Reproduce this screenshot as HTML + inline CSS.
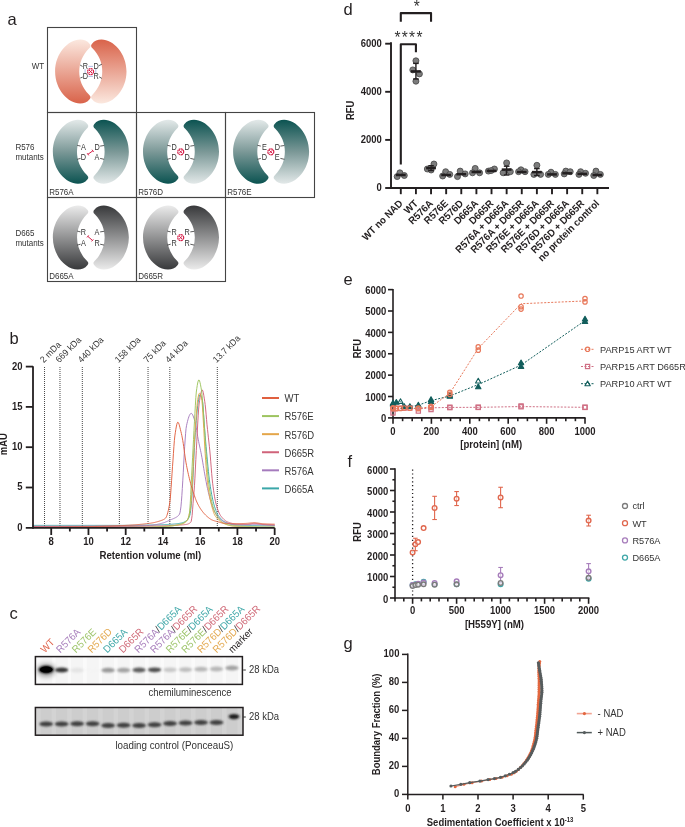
<!DOCTYPE html>
<html><head><meta charset="utf-8"><style>
html,body{margin:0;padding:0;background:#fff;}
svg{display:block;will-change:transform;}
text{font-family:"Liberation Sans",sans-serif;}
</style></head><body>
<svg width="685" height="827" viewBox="0 0 685 827">
<rect width="685" height="827" fill="#fff"/>
<text transform="translate(7.60 25.20)" font-size="16.5" text-anchor="start" fill="#231f20">a</text>
<rect x="47.5" y="27.5" width="89.0" height="85.0" fill="none" stroke="#444" stroke-width="1.1"/>
<rect x="47.5" y="112.5" width="89.0" height="85.0" fill="none" stroke="#444" stroke-width="1.1"/>
<rect x="136.5" y="112.5" width="89.0" height="85.0" fill="none" stroke="#444" stroke-width="1.1"/>
<rect x="225.5" y="112.5" width="89.0" height="85.0" fill="none" stroke="#444" stroke-width="1.1"/>
<rect x="47.5" y="197.5" width="89.0" height="84.0" fill="none" stroke="#444" stroke-width="1.1"/>
<rect x="136.5" y="197.5" width="89.0" height="84.0" fill="none" stroke="#444" stroke-width="1.1"/>
<text transform="translate(44.20 69.20) scale(1.0 1.06)" font-size="8" text-anchor="end" fill="#333">WT</text>
<text transform="translate(15.40 150.20) scale(1.0 1.06)" font-size="8" text-anchor="start" fill="#333">R576</text>
<text transform="translate(15.40 160.20) scale(1.0 1.06)" font-size="8" text-anchor="start" fill="#333">mutants</text>
<text transform="translate(15.40 236.20) scale(1.0 1.06)" font-size="8" text-anchor="start" fill="#333">D665</text>
<text transform="translate(15.40 246.20) scale(1.0 1.06)" font-size="8" text-anchor="start" fill="#333">mutants</text>
<text transform="translate(49.20 195.30) scale(1.0 1.06)" font-size="8" text-anchor="start" fill="#333">R576A</text>
<text transform="translate(138.20 195.30) scale(1.0 1.06)" font-size="8" text-anchor="start" fill="#333">R576D</text>
<text transform="translate(227.20 195.30) scale(1.0 1.06)" font-size="8" text-anchor="start" fill="#333">R576E</text>
<text transform="translate(49.20 279.30) scale(1.0 1.06)" font-size="8" text-anchor="start" fill="#333">D665A</text>
<text transform="translate(138.20 279.30) scale(1.0 1.06)" font-size="8" text-anchor="start" fill="#333">D665R</text>
<defs>
<linearGradient id="gWTl" x1="0" y1="0" x2="0" y2="1"><stop offset="0" stop-color="#fbe8df"/><stop offset="1" stop-color="#d9634a"/></linearGradient>
<linearGradient id="gWTr" x1="0" y1="0" x2="0" y2="1"><stop offset="0" stop-color="#d9634a"/><stop offset="1" stop-color="#fcede6"/></linearGradient>
<linearGradient id="gTl" x1="0" y1="0" x2="0" y2="1"><stop offset="0" stop-color="#e3e9e9"/><stop offset="0.5" stop-color="#7b9897"/><stop offset="1" stop-color="#0b5351"/></linearGradient>
<linearGradient id="gTr" x1="0" y1="0" x2="0" y2="1"><stop offset="0" stop-color="#0a514f"/><stop offset="1" stop-color="#e8eeee"/></linearGradient>
<linearGradient id="gGl" x1="0" y1="0" x2="0" y2="1"><stop offset="0" stop-color="#ebebeb"/><stop offset="1" stop-color="#38393b"/></linearGradient>
<linearGradient id="gGr" x1="0" y1="0" x2="0" y2="1"><stop offset="0" stop-color="#38393b"/><stop offset="1" stop-color="#efefef"/></linearGradient>
</defs>
<g transform="translate(93.10 71.50)"><path d="M -3.3,-27.5 C -6,-31 -9,-32 -13,-32 C -25,-32 -38,-18 -38,0 C -38,18 -25,32 -13,32 C -9,32 -6,31 -3.3,27.5 C -2,26 -2.5,24.5 -4.2,23 C -17,10 -17,-10 -4.2,-23 C -2.5,-24.5 -2,-26 -3.3,-27.5 Z" fill="url(#gWTl)"/></g>
<g transform="translate(88.50 71.50) rotate(180)"><path d="M -3.3,-27.5 C -6,-31 -9,-32 -13,-32 C -25,-32 -38,-18 -38,0 C -38,18 -25,32 -13,32 C -9,32 -6,31 -3.3,27.5 C -2,26 -2.5,24.5 -4.2,23 C -17,10 -17,-10 -4.2,-23 C -2.5,-24.5 -2,-26 -3.3,-27.5 Z" fill="url(#gWTl)"/></g>
<text transform="translate(88.10 68.50) scale(1.0 1.17)" font-size="7.3" text-anchor="end" fill="#333">R</text>
<text transform="translate(93.50 68.50) scale(1.0 1.17)" font-size="7.3" text-anchor="start" fill="#333">D</text>
<text transform="translate(88.10 79.30) scale(1.0 1.17)" font-size="7.3" text-anchor="end" fill="#333">D</text>
<text transform="translate(93.50 79.30) scale(1.0 1.17)" font-size="7.3" text-anchor="start" fill="#333">R</text>
<path d="M80.10,65.00 Q81.35,65.75 82.60,66.50" stroke="#333" stroke-width="0.8" fill="none"/>
<path d="M98.90,65.70 Q100.40,64.95 101.90,64.20" stroke="#333" stroke-width="0.8" fill="none"/>
<path d="M80.30,78.00 Q81.50,77.55 82.70,77.10" stroke="#333" stroke-width="0.8" fill="none"/>
<path d="M99.20,76.90 Q100.55,77.65 101.90,78.40" stroke="#333" stroke-width="0.8" fill="none"/>
<circle cx="90.60" cy="71.60" r="3.0" fill="none" stroke="#d6204a" stroke-width="1.2" stroke-dasharray="1.9 0.45"/>
<line x1="89.00" y1="70.00" x2="92.20" y2="73.20" stroke="#d6204a" stroke-width="1.0"/>
<line x1="89.00" y1="73.20" x2="92.20" y2="70.00" stroke="#d6204a" stroke-width="1.0"/>
<line x1="88.40" y1="66.40" x2="93.00" y2="66.40" stroke="#a9b7e2" stroke-width="0.9"/>
<line x1="88.40" y1="76.40" x2="93.00" y2="76.40" stroke="#a9b7e2" stroke-width="0.9"/>
<line x1="85.10" y1="69.00" x2="85.10" y2="73.10" stroke="#a9b7e2" stroke-width="0.9"/>
<line x1="95.80" y1="69.00" x2="95.80" y2="73.10" stroke="#a9b7e2" stroke-width="0.9"/>
<g transform="translate(90.85 151.80)"><path d="M -3.3,-27.5 C -6,-31 -9,-32 -13,-32 C -25,-32 -38,-18 -38,0 C -38,18 -25,32 -13,32 C -9,32 -6,31 -3.3,27.5 C -2,26 -2.5,24.5 -4.2,23 C -17,10 -17,-10 -4.2,-23 C -2.5,-24.5 -2,-26 -3.3,-27.5 Z" fill="url(#gTl)"/></g>
<g transform="translate(90.85 151.80) rotate(180)"><path d="M -3.3,-27.5 C -6,-31 -9,-32 -13,-32 C -25,-32 -38,-18 -38,0 C -38,18 -25,32 -13,32 C -9,32 -6,31 -3.3,27.5 C -2,26 -2.5,24.5 -4.2,23 C -17,10 -17,-10 -4.2,-23 C -2.5,-24.5 -2,-26 -3.3,-27.5 Z" fill="url(#gTl)"/></g>
<text transform="translate(85.95 149.50) scale(1.0 1.17)" font-size="7.3" text-anchor="end" fill="#333">A</text>
<text transform="translate(94.45 149.50) scale(1.0 1.17)" font-size="7.3" text-anchor="start" fill="#333">D</text>
<text transform="translate(85.95 159.80) scale(1.0 1.17)" font-size="7.3" text-anchor="end" fill="#333">D</text>
<text transform="translate(94.45 159.80) scale(1.0 1.17)" font-size="7.3" text-anchor="start" fill="#333">A</text>
<path d="M77.15,145.30 Q78.85,145.70 80.55,146.10" stroke="#333" stroke-width="0.8" fill="none"/>
<path d="M100.15,146.10 Q102.15,145.80 104.15,145.50" stroke="#333" stroke-width="0.8" fill="none"/>
<path d="M77.15,159.30 Q78.85,158.85 80.55,158.40" stroke="#333" stroke-width="0.8" fill="none"/>
<path d="M100.15,158.40 Q102.15,158.85 104.15,159.30" stroke="#333" stroke-width="0.8" fill="none"/>
<line x1="87.95" y1="154.30" x2="92.85" y2="150.80" stroke="#d6204a" stroke-width="1.0"/>
<line x1="87.19" y1="153.24" x2="88.71" y2="155.36" stroke="#d6204a" stroke-width="1.0"/>
<line x1="92.09" y1="149.74" x2="93.61" y2="151.86" stroke="#d6204a" stroke-width="1.0"/>
<g transform="translate(181.00 151.80)"><path d="M -3.3,-27.5 C -6,-31 -9,-32 -13,-32 C -25,-32 -38,-18 -38,0 C -38,18 -25,32 -13,32 C -9,32 -6,31 -3.3,27.5 C -2,26 -2.5,24.5 -4.2,23 C -17,10 -17,-10 -4.2,-23 C -2.5,-24.5 -2,-26 -3.3,-27.5 Z" fill="url(#gTl)"/></g>
<g transform="translate(181.00 151.80) rotate(180)"><path d="M -3.3,-27.5 C -6,-31 -9,-32 -13,-32 C -25,-32 -38,-18 -38,0 C -38,18 -25,32 -13,32 C -9,32 -6,31 -3.3,27.5 C -2,26 -2.5,24.5 -4.2,23 C -17,10 -17,-10 -4.2,-23 C -2.5,-24.5 -2,-26 -3.3,-27.5 Z" fill="url(#gTl)"/></g>
<text transform="translate(176.80 149.50) scale(1.0 1.17)" font-size="7.3" text-anchor="end" fill="#333">D</text>
<text transform="translate(184.60 149.50) scale(1.0 1.17)" font-size="7.3" text-anchor="start" fill="#333">D</text>
<text transform="translate(176.80 159.80) scale(1.0 1.17)" font-size="7.3" text-anchor="end" fill="#333">D</text>
<text transform="translate(184.60 159.80) scale(1.0 1.17)" font-size="7.3" text-anchor="start" fill="#333">D</text>
<path d="M167.30,145.30 Q169.00,145.70 170.70,146.10" stroke="#333" stroke-width="0.8" fill="none"/>
<path d="M190.30,146.10 Q192.30,145.80 194.30,145.50" stroke="#333" stroke-width="0.8" fill="none"/>
<path d="M167.30,159.30 Q169.00,158.85 170.70,158.40" stroke="#333" stroke-width="0.8" fill="none"/>
<path d="M190.30,158.40 Q192.30,158.85 194.30,159.30" stroke="#333" stroke-width="0.8" fill="none"/>
<circle cx="180.70" cy="151.80" r="3.0" fill="none" stroke="#d6204a" stroke-width="1.2" stroke-dasharray="1.9 0.45"/>
<line x1="179.10" y1="150.20" x2="182.30" y2="153.40" stroke="#d6204a" stroke-width="1.0"/>
<line x1="179.10" y1="153.40" x2="182.30" y2="150.20" stroke="#d6204a" stroke-width="1.0"/>
<g transform="translate(271.10 151.80)"><path d="M -3.3,-27.5 C -6,-31 -9,-32 -13,-32 C -25,-32 -38,-18 -38,0 C -38,18 -25,32 -13,32 C -9,32 -6,31 -3.3,27.5 C -2,26 -2.5,24.5 -4.2,23 C -17,10 -17,-10 -4.2,-23 C -2.5,-24.5 -2,-26 -3.3,-27.5 Z" fill="url(#gTl)"/></g>
<g transform="translate(271.10 151.80) rotate(180)"><path d="M -3.3,-27.5 C -6,-31 -9,-32 -13,-32 C -25,-32 -38,-18 -38,0 C -38,18 -25,32 -13,32 C -9,32 -6,31 -3.3,27.5 C -2,26 -2.5,24.5 -4.2,23 C -17,10 -17,-10 -4.2,-23 C -2.5,-24.5 -2,-26 -3.3,-27.5 Z" fill="url(#gTl)"/></g>
<text transform="translate(266.90 149.50) scale(1.0 1.17)" font-size="7.3" text-anchor="end" fill="#333">E</text>
<text transform="translate(274.70 149.50) scale(1.0 1.17)" font-size="7.3" text-anchor="start" fill="#333">D</text>
<text transform="translate(266.90 159.80) scale(1.0 1.17)" font-size="7.3" text-anchor="end" fill="#333">D</text>
<text transform="translate(274.70 159.80) scale(1.0 1.17)" font-size="7.3" text-anchor="start" fill="#333">E</text>
<path d="M257.40,145.30 Q259.10,145.70 260.80,146.10" stroke="#333" stroke-width="0.8" fill="none"/>
<path d="M280.40,146.10 Q282.40,145.80 284.40,145.50" stroke="#333" stroke-width="0.8" fill="none"/>
<path d="M257.40,159.30 Q259.10,158.85 260.80,158.40" stroke="#333" stroke-width="0.8" fill="none"/>
<path d="M280.40,158.40 Q282.40,158.85 284.40,159.30" stroke="#333" stroke-width="0.8" fill="none"/>
<circle cx="270.80" cy="151.80" r="3.0" fill="none" stroke="#d6204a" stroke-width="1.2" stroke-dasharray="1.9 0.45"/>
<line x1="269.20" y1="150.20" x2="272.40" y2="153.40" stroke="#d6204a" stroke-width="1.0"/>
<line x1="269.20" y1="153.40" x2="272.40" y2="150.20" stroke="#d6204a" stroke-width="1.0"/>
<g transform="translate(90.85 237.60)"><path d="M -3.3,-27.5 C -6,-31 -9,-32 -13,-32 C -25,-32 -38,-18 -38,0 C -38,18 -25,32 -13,32 C -9,32 -6,31 -3.3,27.5 C -2,26 -2.5,24.5 -4.2,23 C -17,10 -17,-10 -4.2,-23 C -2.5,-24.5 -2,-26 -3.3,-27.5 Z" fill="url(#gGl)"/></g>
<g transform="translate(90.85 237.60) rotate(180)"><path d="M -3.3,-27.5 C -6,-31 -9,-32 -13,-32 C -25,-32 -38,-18 -38,0 C -38,18 -25,32 -13,32 C -9,32 -6,31 -3.3,27.5 C -2,26 -2.5,24.5 -4.2,23 C -17,10 -17,-10 -4.2,-23 C -2.5,-24.5 -2,-26 -3.3,-27.5 Z" fill="url(#gGl)"/></g>
<text transform="translate(85.95 235.30) scale(1.0 1.17)" font-size="7.3" text-anchor="end" fill="#333">R</text>
<text transform="translate(94.45 235.30) scale(1.0 1.17)" font-size="7.3" text-anchor="start" fill="#333">A</text>
<text transform="translate(85.95 245.60) scale(1.0 1.17)" font-size="7.3" text-anchor="end" fill="#333">A</text>
<text transform="translate(94.45 245.60) scale(1.0 1.17)" font-size="7.3" text-anchor="start" fill="#333">R</text>
<path d="M77.15,231.10 Q78.85,231.50 80.55,231.90" stroke="#333" stroke-width="0.8" fill="none"/>
<path d="M100.15,231.90 Q102.15,231.60 104.15,231.30" stroke="#333" stroke-width="0.8" fill="none"/>
<path d="M77.15,245.10 Q78.85,244.65 80.55,244.20" stroke="#333" stroke-width="0.8" fill="none"/>
<path d="M100.15,244.20 Q102.15,244.65 104.15,245.10" stroke="#333" stroke-width="0.8" fill="none"/>
<line x1="87.85" y1="236.40" x2="92.45" y2="240.40" stroke="#d6204a" stroke-width="1.0"/>
<line x1="88.70" y1="235.42" x2="87.00" y2="237.38" stroke="#d6204a" stroke-width="1.0"/>
<line x1="93.30" y1="239.42" x2="91.60" y2="241.38" stroke="#d6204a" stroke-width="1.0"/>
<g transform="translate(181.00 237.60)"><path d="M -3.3,-27.5 C -6,-31 -9,-32 -13,-32 C -25,-32 -38,-18 -38,0 C -38,18 -25,32 -13,32 C -9,32 -6,31 -3.3,27.5 C -2,26 -2.5,24.5 -4.2,23 C -17,10 -17,-10 -4.2,-23 C -2.5,-24.5 -2,-26 -3.3,-27.5 Z" fill="url(#gGl)"/></g>
<g transform="translate(181.00 237.60) rotate(180)"><path d="M -3.3,-27.5 C -6,-31 -9,-32 -13,-32 C -25,-32 -38,-18 -38,0 C -38,18 -25,32 -13,32 C -9,32 -6,31 -3.3,27.5 C -2,26 -2.5,24.5 -4.2,23 C -17,10 -17,-10 -4.2,-23 C -2.5,-24.5 -2,-26 -3.3,-27.5 Z" fill="url(#gGl)"/></g>
<text transform="translate(176.80 235.30) scale(1.0 1.17)" font-size="7.3" text-anchor="end" fill="#333">R</text>
<text transform="translate(184.60 235.30) scale(1.0 1.17)" font-size="7.3" text-anchor="start" fill="#333">R</text>
<text transform="translate(176.80 245.60) scale(1.0 1.17)" font-size="7.3" text-anchor="end" fill="#333">R</text>
<text transform="translate(184.60 245.60) scale(1.0 1.17)" font-size="7.3" text-anchor="start" fill="#333">R</text>
<path d="M167.30,231.10 Q169.00,231.50 170.70,231.90" stroke="#333" stroke-width="0.8" fill="none"/>
<path d="M190.30,231.90 Q192.30,231.60 194.30,231.30" stroke="#333" stroke-width="0.8" fill="none"/>
<path d="M167.30,245.10 Q169.00,244.65 170.70,244.20" stroke="#333" stroke-width="0.8" fill="none"/>
<path d="M190.30,244.20 Q192.30,244.65 194.30,245.10" stroke="#333" stroke-width="0.8" fill="none"/>
<circle cx="180.70" cy="237.60" r="3.0" fill="none" stroke="#d6204a" stroke-width="1.2" stroke-dasharray="1.9 0.45"/>
<line x1="179.10" y1="236.00" x2="182.30" y2="239.20" stroke="#d6204a" stroke-width="1.0"/>
<line x1="179.10" y1="239.20" x2="182.30" y2="236.00" stroke="#d6204a" stroke-width="1.0"/>
<text transform="translate(9.60 344.20)" font-size="16.5" text-anchor="start" fill="#231f20">b</text>
<line x1="44.52" y1="367.00" x2="44.52" y2="527.00" stroke="#333" stroke-width="0.9" stroke-dasharray="1 1"/>
<text transform="translate(43.72 363.20) rotate(-45) scale(1.0 1.06)" font-size="8.6" text-anchor="start" fill="#333">2 mDa</text>
<line x1="59.97" y1="367.00" x2="59.97" y2="527.00" stroke="#333" stroke-width="0.9" stroke-dasharray="1 1"/>
<text transform="translate(59.17 363.20) rotate(-45) scale(1.0 1.06)" font-size="8.6" text-anchor="start" fill="#333">669 kDa</text>
<line x1="82.32" y1="367.00" x2="82.32" y2="527.00" stroke="#333" stroke-width="0.9" stroke-dasharray="1 1"/>
<text transform="translate(81.52 363.20) rotate(-45) scale(1.0 1.06)" font-size="8.6" text-anchor="start" fill="#333">440 kDa</text>
<line x1="119.37" y1="367.00" x2="119.37" y2="527.00" stroke="#333" stroke-width="0.9" stroke-dasharray="1 1"/>
<text transform="translate(118.57 363.20) rotate(-45) scale(1.0 1.06)" font-size="8.6" text-anchor="start" fill="#333">158 kDa</text>
<line x1="148.04" y1="367.00" x2="148.04" y2="527.00" stroke="#333" stroke-width="0.9" stroke-dasharray="1 1"/>
<text transform="translate(147.24 363.20) rotate(-45) scale(1.0 1.06)" font-size="8.6" text-anchor="start" fill="#333">75 kDa</text>
<line x1="169.83" y1="367.00" x2="169.83" y2="527.00" stroke="#333" stroke-width="0.9" stroke-dasharray="1 1"/>
<text transform="translate(169.03 363.20) rotate(-45) scale(1.0 1.06)" font-size="8.6" text-anchor="start" fill="#333">44 kDa</text>
<line x1="217.31" y1="367.00" x2="217.31" y2="527.00" stroke="#333" stroke-width="0.9" stroke-dasharray="1 1"/>
<text transform="translate(216.51 363.20) rotate(-45) scale(1.0 1.06)" font-size="8.6" text-anchor="start" fill="#333">13.7 kDa</text>
<path d="M32.60,525.38 L33.07,525.38 L33.53,525.38 L34.00,525.38 L34.47,525.38 L34.93,525.38 L35.40,525.38 L35.86,525.38 L36.33,525.38 L36.80,525.38 L37.26,525.38 L37.73,525.38 L38.20,525.38 L38.66,525.38 L39.13,525.38 L39.60,525.38 L40.06,525.38 L40.53,525.38 L41.00,525.38 L41.46,525.38 L41.93,525.38 L42.39,525.38 L42.86,525.38 L43.33,525.38 L43.79,525.38 L44.26,525.38 L44.73,525.38 L45.19,525.38 L45.66,525.38 L46.13,525.38 L46.59,525.38 L47.06,525.38 L47.52,525.38 L47.99,525.38 L48.46,525.38 L48.92,525.38 L49.39,525.38 L49.86,525.38 L50.32,525.38 L50.79,525.38 L51.26,525.38 L51.72,525.38 L52.19,525.38 L52.66,525.38 L53.12,525.38 L53.59,525.38 L54.05,525.38 L54.52,525.38 L54.99,525.38 L55.45,525.38 L55.92,525.38 L56.39,525.38 L56.85,525.38 L57.32,525.38 L57.79,525.38 L58.25,525.38 L58.72,525.38 L59.18,525.38 L59.65,525.38 L60.12,525.38 L60.58,525.38 L61.05,525.38 L61.52,525.38 L61.98,525.38 L62.45,525.38 L62.92,525.38 L63.38,525.38 L63.85,525.38 L64.31,525.38 L64.78,525.38 L65.25,525.38 L65.71,525.38 L66.18,525.38 L66.65,525.38 L67.11,525.38 L67.58,525.38 L68.05,525.38 L68.51,525.38 L68.98,525.38 L69.45,525.38 L69.91,525.38 L70.38,525.38 L70.84,525.38 L71.31,525.38 L71.78,525.38 L72.24,525.38 L72.71,525.38 L73.18,525.38 L73.64,525.38 L74.11,525.38 L74.58,525.38 L75.04,525.38 L75.51,525.38 L75.97,525.38 L76.44,525.38 L76.91,525.38 L77.37,525.38 L77.84,525.38 L78.31,525.38 L78.77,525.38 L79.24,525.38 L79.71,525.38 L80.17,525.38 L80.64,525.38 L81.11,525.38 L81.57,525.38 L82.04,525.38 L82.50,525.38 L82.97,525.38 L83.44,525.38 L83.90,525.38 L84.37,525.38 L84.84,525.38 L85.30,525.38 L85.77,525.38 L86.24,525.38 L86.70,525.38 L87.17,525.38 L87.63,525.38 L88.10,525.38 L88.57,525.38 L89.03,525.38 L89.50,525.38 L89.97,525.38 L90.43,525.38 L90.90,525.38 L91.37,525.38 L91.83,525.38 L92.30,525.38 L92.77,525.38 L93.23,525.38 L93.70,525.38 L94.16,525.38 L94.63,525.38 L95.10,525.38 L95.56,525.38 L96.03,525.38 L96.50,525.38 L96.96,525.38 L97.43,525.38 L97.90,525.38 L98.36,525.38 L98.83,525.38 L99.29,525.38 L99.76,525.38 L100.23,525.38 L100.69,525.38 L101.16,525.38 L101.63,525.38 L102.09,525.38 L102.56,525.38 L103.03,525.38 L103.49,525.38 L103.96,525.38 L104.43,525.38 L104.89,525.38 L105.36,525.38 L105.82,525.38 L106.29,525.38 L106.76,525.38 L107.22,525.38 L107.69,525.38 L108.16,525.38 L108.62,525.38 L109.09,525.38 L109.56,525.38 L110.02,525.38 L110.49,525.38 L110.95,525.38 L111.42,525.38 L111.89,525.38 L112.35,525.38 L112.82,525.38 L113.29,525.38 L113.75,525.38 L114.22,525.38 L114.69,525.38 L115.15,525.38 L115.62,525.38 L116.09,525.38 L116.55,525.38 L117.02,525.38 L117.48,525.38 L117.95,525.38 L118.42,525.38 L118.88,525.38 L119.35,525.38 L119.82,525.38 L120.28,525.38 L120.75,525.38 L121.22,525.38 L121.68,525.38 L122.15,525.38 L122.61,525.38 L123.08,525.38 L123.55,525.38 L124.01,525.38 L124.48,525.38 L124.95,525.38 L125.41,525.38 L125.88,525.38 L126.35,525.38 L126.81,525.38 L127.28,525.38 L127.74,525.38 L128.21,525.38 L128.68,525.38 L129.14,525.37 L129.61,525.37 L130.08,525.37 L130.54,525.37 L131.01,525.36 L131.48,525.36 L131.94,525.35 L132.41,525.35 L132.88,525.35 L133.34,525.34 L133.81,525.34 L134.27,525.33 L134.74,525.33 L135.21,525.32 L135.67,525.32 L136.14,525.31 L136.61,525.30 L137.07,525.30 L137.54,525.29 L138.01,525.28 L138.47,525.28 L138.94,525.27 L139.40,525.26 L139.87,525.26 L140.34,525.25 L140.80,525.24 L141.27,525.23 L141.74,525.22 L142.20,525.22 L142.67,525.21 L143.14,525.20 L143.60,525.19 L144.07,525.18 L144.54,525.17 L145.00,525.16 L145.47,525.15 L145.93,525.14 L146.40,525.13 L146.87,525.13 L147.33,525.12 L147.80,525.11 L148.27,525.10 L148.73,525.09 L149.20,525.08 L149.67,525.07 L150.13,525.06 L150.60,525.05 L151.06,525.04 L151.53,525.03 L152.00,525.02 L152.46,525.01 L152.93,524.99 L153.40,524.98 L153.86,524.97 L154.33,524.96 L154.80,524.95 L155.26,524.94 L155.73,524.93 L156.20,524.92 L156.66,524.90 L157.13,524.89 L157.59,524.88 L158.06,524.86 L158.53,524.85 L158.99,524.83 L159.46,524.82 L159.93,524.80 L160.39,524.78 L160.86,524.77 L161.33,524.75 L161.79,524.73 L162.26,524.71 L162.72,524.69 L163.19,524.67 L163.66,524.65 L164.12,524.63 L164.59,524.61 L165.06,524.59 L165.52,524.57 L165.99,524.54 L166.46,524.52 L166.92,524.50 L167.39,524.47 L167.86,524.45 L168.32,524.42 L168.79,524.39 L169.25,524.36 L169.72,524.34 L170.19,524.31 L170.65,524.28 L171.12,524.25 L171.59,524.22 L172.05,524.19 L172.52,524.15 L172.99,524.12 L173.45,524.08 L173.92,524.05 L174.38,524.01 L174.85,523.96 L175.32,523.92 L175.78,523.87 L176.25,523.82 L176.72,523.76 L177.18,523.71 L177.65,523.65 L178.12,523.58 L178.58,523.51 L179.05,523.44 L179.52,523.36 L179.98,523.28 L180.45,523.19 L180.91,523.10 L181.38,523.00 L181.85,522.90 L182.31,522.78 L182.78,522.63 L183.25,522.47 L183.71,522.29 L184.18,522.08 L184.65,521.85 L185.11,521.59 L185.58,521.31 L186.04,520.99 L186.51,520.65 L186.98,520.28 L187.44,519.87 L187.91,519.33 L188.38,518.64 L188.84,517.78 L189.31,516.71 L189.78,515.42 L190.24,513.53 L190.71,510.17 L191.17,505.89 L191.64,500.66 L192.11,493.92 L192.57,486.21 L193.04,477.42 L193.51,466.73 L193.97,456.11 L194.44,447.38 L194.91,439.58 L195.37,432.45 L195.84,426.06 L196.31,420.38 L196.77,414.99 L197.24,410.00 L197.70,405.64 L198.17,402.15 L198.64,399.42 L199.10,396.90 L199.57,395.05 L200.04,394.41 L200.50,394.73 L200.97,395.55 L201.44,396.79 L201.90,398.38 L202.37,400.25 L202.83,403.77 L203.30,409.98 L203.77,417.30 L204.23,424.10 L204.70,429.91 L205.17,435.66 L205.63,441.28 L206.10,446.69 L206.57,451.82 L207.03,456.85 L207.50,461.87 L207.97,466.76 L208.43,471.45 L208.90,475.82 L209.36,479.79 L209.83,483.26 L210.30,486.33 L210.76,489.24 L211.23,492.00 L211.70,494.58 L212.16,496.99 L212.63,499.23 L213.10,501.28 L213.56,503.16 L214.03,504.84 L214.49,506.37 L214.96,507.82 L215.43,509.19 L215.89,510.48 L216.36,511.67 L216.83,512.77 L217.29,513.76 L217.76,514.65 L218.23,515.42 L218.69,516.08 L219.16,516.70 L219.63,517.30 L220.09,517.86 L220.56,518.40 L221.02,518.91 L221.49,519.39 L221.96,519.84 L222.42,520.26 L222.89,520.65 L223.36,521.01 L223.82,521.33 L224.29,521.62 L224.76,521.89 L225.22,522.12 L225.69,522.32 L226.15,522.52 L226.62,522.72 L227.09,522.90 L227.55,523.09 L228.02,523.27 L228.49,523.44 L228.95,523.60 L229.42,523.76 L229.89,523.91 L230.35,524.05 L230.82,524.18 L231.29,524.31 L231.75,524.42 L232.22,524.53 L232.68,524.62 L233.15,524.71 L233.62,524.79 L234.08,524.85 L234.55,524.90 L235.02,524.95 L235.48,524.98 L235.95,525.00 L236.42,525.02 L236.88,525.04 L237.35,525.06 L237.81,525.08 L238.28,525.10 L238.75,525.12 L239.21,525.14 L239.68,525.16 L240.15,525.17 L240.61,525.19 L241.08,525.21 L241.55,525.23 L242.01,525.25 L242.48,525.26 L242.95,525.28 L243.41,525.29 L243.88,525.31 L244.34,525.33 L244.81,525.34 L245.28,525.36 L245.74,525.37 L246.21,525.39 L246.68,525.40 L247.14,525.41 L247.61,525.43 L248.08,525.44 L248.54,525.45 L249.01,525.47 L249.47,525.48 L249.94,525.49 L250.41,525.50 L250.87,525.51 L251.34,525.53 L251.81,525.54 L252.27,525.55 L252.74,525.56 L253.21,525.57 L253.67,525.58 L254.14,525.59 L254.60,525.60 L255.07,525.61 L255.54,525.62 L256.00,525.62 L256.47,525.63 L256.94,525.64 L257.40,525.65 L257.87,525.66 L258.34,525.66 L258.80,525.67 L259.27,525.68 L259.74,525.68 L260.20,525.69 L260.67,525.70 L261.13,525.70 L261.60,525.71 L262.07,525.71 L262.53,525.72 L263.00,525.73 L263.47,525.73 L263.93,525.73 L264.40,525.74 L264.87,525.74 L265.33,525.75 L265.80,525.75 L266.26,525.75 L266.73,525.76 L267.20,525.76 L267.66,525.76 L268.13,525.77 L268.60,525.77 L269.06,525.77 L269.53,525.77 L270.00,525.78 L270.46,525.78 L270.93,525.78 L271.40,525.78 L271.86,525.78 L272.33,525.78 L272.79,525.78 L273.26,525.78 L273.73,525.78 L274.19,525.78 L274.66,525.78" fill="none" stroke="#3ba7a9" stroke-width="0.95" stroke-linejoin="round"/>
<path d="M32.60,526.43 L33.07,526.43 L33.53,526.43 L34.00,526.43 L34.47,526.43 L34.93,526.43 L35.40,526.43 L35.86,526.43 L36.33,526.43 L36.80,526.43 L37.26,526.43 L37.73,526.43 L38.20,526.43 L38.66,526.43 L39.13,526.43 L39.60,526.43 L40.06,526.43 L40.53,526.43 L41.00,526.43 L41.46,526.43 L41.93,526.43 L42.39,526.43 L42.86,526.43 L43.33,526.43 L43.79,526.43 L44.26,526.43 L44.73,526.43 L45.19,526.43 L45.66,526.43 L46.13,526.43 L46.59,526.43 L47.06,526.43 L47.52,526.42 L47.99,526.42 L48.46,526.42 L48.92,526.42 L49.39,526.42 L49.86,526.42 L50.32,526.42 L50.79,526.42 L51.26,526.42 L51.72,526.42 L52.19,526.42 L52.66,526.42 L53.12,526.42 L53.59,526.42 L54.05,526.42 L54.52,526.42 L54.99,526.42 L55.45,526.42 L55.92,526.42 L56.39,526.42 L56.85,526.42 L57.32,526.42 L57.79,526.42 L58.25,526.41 L58.72,526.41 L59.18,526.41 L59.65,526.41 L60.12,526.41 L60.58,526.41 L61.05,526.41 L61.52,526.41 L61.98,526.41 L62.45,526.41 L62.92,526.41 L63.38,526.41 L63.85,526.41 L64.31,526.41 L64.78,526.41 L65.25,526.40 L65.71,526.40 L66.18,526.40 L66.65,526.40 L67.11,526.40 L67.58,526.40 L68.05,526.40 L68.51,526.40 L68.98,526.40 L69.45,526.40 L69.91,526.40 L70.38,526.40 L70.84,526.39 L71.31,526.39 L71.78,526.39 L72.24,526.39 L72.71,526.39 L73.18,526.39 L73.64,526.39 L74.11,526.39 L74.58,526.39 L75.04,526.39 L75.51,526.38 L75.97,526.38 L76.44,526.38 L76.91,526.38 L77.37,526.38 L77.84,526.38 L78.31,526.38 L78.77,526.38 L79.24,526.38 L79.71,526.37 L80.17,526.37 L80.64,526.37 L81.11,526.37 L81.57,526.37 L82.04,526.37 L82.50,526.37 L82.97,526.37 L83.44,526.37 L83.90,526.36 L84.37,526.36 L84.84,526.36 L85.30,526.36 L85.77,526.36 L86.24,526.36 L86.70,526.36 L87.17,526.35 L87.63,526.35 L88.10,526.35 L88.57,526.35 L89.03,526.35 L89.50,526.35 L89.97,526.35 L90.43,526.34 L90.90,526.34 L91.37,526.34 L91.83,526.34 L92.30,526.34 L92.77,526.34 L93.23,526.34 L93.70,526.33 L94.16,526.33 L94.63,526.33 L95.10,526.33 L95.56,526.33 L96.03,526.33 L96.50,526.32 L96.96,526.32 L97.43,526.32 L97.90,526.32 L98.36,526.32 L98.83,526.32 L99.29,526.31 L99.76,526.31 L100.23,526.31 L100.69,526.31 L101.16,526.31 L101.63,526.30 L102.09,526.30 L102.56,526.30 L103.03,526.30 L103.49,526.30 L103.96,526.30 L104.43,526.29 L104.89,526.29 L105.36,526.29 L105.82,526.29 L106.29,526.29 L106.76,526.28 L107.22,526.28 L107.69,526.28 L108.16,526.28 L108.62,526.28 L109.09,526.27 L109.56,526.27 L110.02,526.27 L110.49,526.27 L110.95,526.26 L111.42,526.26 L111.89,526.26 L112.35,526.26 L112.82,526.26 L113.29,526.25 L113.75,526.25 L114.22,526.25 L114.69,526.25 L115.15,526.24 L115.62,526.24 L116.09,526.24 L116.55,526.24 L117.02,526.24 L117.48,526.23 L117.95,526.23 L118.42,526.23 L118.88,526.23 L119.35,526.22 L119.82,526.22 L120.28,526.22 L120.75,526.22 L121.22,526.21 L121.68,526.21 L122.15,526.21 L122.61,526.21 L123.08,526.20 L123.55,526.20 L124.01,526.20 L124.48,526.19 L124.95,526.19 L125.41,526.19 L125.88,526.19 L126.35,526.18 L126.81,526.18 L127.28,526.18 L127.74,526.17 L128.21,526.17 L128.68,526.16 L129.14,526.15 L129.61,526.15 L130.08,526.14 L130.54,526.13 L131.01,526.13 L131.48,526.12 L131.94,526.11 L132.41,526.10 L132.88,526.09 L133.34,526.08 L133.81,526.07 L134.27,526.06 L134.74,526.05 L135.21,526.03 L135.67,526.02 L136.14,526.01 L136.61,525.99 L137.07,525.98 L137.54,525.96 L138.01,525.95 L138.47,525.93 L138.94,525.92 L139.40,525.90 L139.87,525.88 L140.34,525.86 L140.80,525.85 L141.27,525.83 L141.74,525.81 L142.20,525.79 L142.67,525.77 L143.14,525.75 L143.60,525.73 L144.07,525.71 L144.54,525.68 L145.00,525.66 L145.47,525.64 L145.93,525.61 L146.40,525.59 L146.87,525.57 L147.33,525.54 L147.80,525.51 L148.27,525.49 L148.73,525.46 L149.20,525.44 L149.67,525.41 L150.13,525.38 L150.60,525.35 L151.06,525.31 L151.53,525.27 L152.00,525.22 L152.46,525.16 L152.93,525.11 L153.40,525.04 L153.86,524.97 L154.33,524.90 L154.80,524.82 L155.26,524.74 L155.73,524.66 L156.20,524.57 L156.66,524.47 L157.13,524.38 L157.59,524.28 L158.06,524.18 L158.53,524.07 L158.99,523.96 L159.46,523.85 L159.93,523.74 L160.39,523.62 L160.86,523.51 L161.33,523.39 L161.79,523.27 L162.26,523.14 L162.72,523.02 L163.19,522.89 L163.66,522.76 L164.12,522.60 L164.59,522.44 L165.06,522.26 L165.52,522.07 L165.99,521.88 L166.46,521.68 L166.92,521.47 L167.39,521.26 L167.86,521.05 L168.32,520.83 L168.79,520.62 L169.25,520.41 L169.72,520.19 L170.19,519.99 L170.65,519.79 L171.12,519.59 L171.59,519.40 L172.05,519.21 L172.52,519.02 L172.99,518.83 L173.45,518.63 L173.92,518.43 L174.38,518.21 L174.85,517.98 L175.32,517.74 L175.78,517.50 L176.25,517.23 L176.72,516.95 L177.18,516.63 L177.65,516.27 L178.12,515.87 L178.58,515.42 L179.05,514.85 L179.52,514.07 L179.98,512.77 L180.45,510.22 L180.91,506.85 L181.38,501.82 L181.85,495.74 L182.31,488.61 L182.78,480.82 L183.25,472.81 L183.71,464.08 L184.18,454.90 L184.65,446.77 L185.11,440.05 L185.58,433.75 L186.04,428.71 L186.51,425.72 L186.98,423.59 L187.44,421.62 L187.91,419.82 L188.38,418.22 L188.84,416.82 L189.31,415.64 L189.78,414.69 L190.24,413.98 L190.71,413.53 L191.17,413.35 L191.64,413.49 L192.11,413.97 L192.57,414.74 L193.04,415.76 L193.51,416.97 L193.97,418.32 L194.44,419.75 L194.91,421.22 L195.37,422.92 L195.84,425.16 L196.31,427.78 L196.77,430.65 L197.24,433.60 L197.70,436.49 L198.17,439.17 L198.64,441.56 L199.10,443.81 L199.57,445.98 L200.04,448.13 L200.50,450.29 L200.97,452.51 L201.44,454.84 L201.90,457.33 L202.37,460.01 L202.83,462.83 L203.30,465.69 L203.77,468.54 L204.23,471.30 L204.70,473.91 L205.17,476.50 L205.63,479.07 L206.10,481.58 L206.57,484.02 L207.03,486.34 L207.50,488.53 L207.97,490.59 L208.43,492.57 L208.90,494.47 L209.36,496.30 L209.83,498.04 L210.30,499.71 L210.76,501.30 L211.23,502.82 L211.70,504.30 L212.16,505.74 L212.63,507.12 L213.10,508.41 L213.56,509.59 L214.03,510.63 L214.49,511.56 L214.96,512.41 L215.43,513.19 L215.89,513.92 L216.36,514.60 L216.83,515.25 L217.29,515.86 L217.76,516.44 L218.23,517.02 L218.69,517.57 L219.16,518.11 L219.63,518.63 L220.09,519.11 L220.56,519.56 L221.02,519.97 L221.49,520.34 L221.96,520.67 L222.42,520.97 L222.89,521.26 L223.36,521.54 L223.82,521.81 L224.29,522.06 L224.76,522.30 L225.22,522.51 L225.69,522.72 L226.15,522.90 L226.62,523.06 L227.09,523.21 L227.55,523.34 L228.02,523.46 L228.49,523.58 L228.95,523.70 L229.42,523.81 L229.89,523.92 L230.35,524.03 L230.82,524.14 L231.29,524.24 L231.75,524.34 L232.22,524.43 L232.68,524.52 L233.15,524.60 L233.62,524.67 L234.08,524.74 L234.55,524.80 L235.02,524.85 L235.48,524.89 L235.95,524.93 L236.42,524.96 L236.88,524.97 L237.35,524.98 L237.81,524.98 L238.28,524.98 L238.75,524.97 L239.21,524.97 L239.68,524.96 L240.15,524.95 L240.61,524.94 L241.08,524.93 L241.55,524.92 L242.01,524.90 L242.48,524.89 L242.95,524.88 L243.41,524.86 L243.88,524.85 L244.34,524.83 L244.81,524.81 L245.28,524.80 L245.74,524.78 L246.21,524.76 L246.68,524.75 L247.14,524.73 L247.61,524.71 L248.08,524.70 L248.54,524.68 L249.01,524.67 L249.47,524.65 L249.94,524.64 L250.41,524.63 L250.87,524.62 L251.34,524.61 L251.81,524.60 L252.27,524.59 L252.74,524.58 L253.21,524.58 L253.67,524.58 L254.14,524.58 L254.60,524.58 L255.07,524.58 L255.54,524.58 L256.00,524.58 L256.47,524.59 L256.94,524.59 L257.40,524.60 L257.87,524.60 L258.34,524.61 L258.80,524.62 L259.27,524.63 L259.74,524.64 L260.20,524.65 L260.67,524.66 L261.13,524.68 L261.60,524.69 L262.07,524.70 L262.53,524.72 L263.00,524.74 L263.47,524.75 L263.93,524.77 L264.40,524.79 L264.87,524.81 L265.33,524.83 L265.80,524.85 L266.26,524.87 L266.73,524.89 L267.20,524.92 L267.66,524.94 L268.13,524.96 L268.60,524.99 L269.06,525.01 L269.53,525.04 L270.00,525.07 L270.46,525.10 L270.93,525.13 L271.40,525.16 L271.86,525.19 L272.33,525.22 L272.79,525.25 L273.26,525.28 L273.73,525.31 L274.19,525.35 L274.66,525.38" fill="none" stroke="#a57bbd" stroke-width="0.95" stroke-linejoin="round"/>
<path d="M32.60,526.43 L33.07,526.43 L33.53,526.43 L34.00,526.43 L34.47,526.43 L34.93,526.43 L35.40,526.43 L35.86,526.43 L36.33,526.43 L36.80,526.43 L37.26,526.43 L37.73,526.43 L38.20,526.43 L38.66,526.43 L39.13,526.43 L39.60,526.43 L40.06,526.43 L40.53,526.43 L41.00,526.43 L41.46,526.43 L41.93,526.43 L42.39,526.43 L42.86,526.43 L43.33,526.43 L43.79,526.43 L44.26,526.43 L44.73,526.43 L45.19,526.43 L45.66,526.43 L46.13,526.43 L46.59,526.43 L47.06,526.43 L47.52,526.43 L47.99,526.43 L48.46,526.43 L48.92,526.43 L49.39,526.43 L49.86,526.43 L50.32,526.42 L50.79,526.42 L51.26,526.42 L51.72,526.42 L52.19,526.42 L52.66,526.42 L53.12,526.42 L53.59,526.42 L54.05,526.42 L54.52,526.42 L54.99,526.42 L55.45,526.42 L55.92,526.42 L56.39,526.42 L56.85,526.42 L57.32,526.42 L57.79,526.42 L58.25,526.42 L58.72,526.42 L59.18,526.42 L59.65,526.42 L60.12,526.42 L60.58,526.42 L61.05,526.42 L61.52,526.42 L61.98,526.42 L62.45,526.42 L62.92,526.42 L63.38,526.41 L63.85,526.41 L64.31,526.41 L64.78,526.41 L65.25,526.41 L65.71,526.41 L66.18,526.41 L66.65,526.41 L67.11,526.41 L67.58,526.41 L68.05,526.41 L68.51,526.41 L68.98,526.41 L69.45,526.41 L69.91,526.41 L70.38,526.41 L70.84,526.41 L71.31,526.41 L71.78,526.40 L72.24,526.40 L72.71,526.40 L73.18,526.40 L73.64,526.40 L74.11,526.40 L74.58,526.40 L75.04,526.40 L75.51,526.40 L75.97,526.40 L76.44,526.40 L76.91,526.40 L77.37,526.40 L77.84,526.40 L78.31,526.40 L78.77,526.39 L79.24,526.39 L79.71,526.39 L80.17,526.39 L80.64,526.39 L81.11,526.39 L81.57,526.39 L82.04,526.39 L82.50,526.39 L82.97,526.39 L83.44,526.39 L83.90,526.39 L84.37,526.38 L84.84,526.38 L85.30,526.38 L85.77,526.38 L86.24,526.38 L86.70,526.38 L87.17,526.38 L87.63,526.38 L88.10,526.38 L88.57,526.38 L89.03,526.38 L89.50,526.37 L89.97,526.37 L90.43,526.37 L90.90,526.37 L91.37,526.37 L91.83,526.37 L92.30,526.37 L92.77,526.37 L93.23,526.37 L93.70,526.37 L94.16,526.36 L94.63,526.36 L95.10,526.36 L95.56,526.36 L96.03,526.36 L96.50,526.36 L96.96,526.36 L97.43,526.36 L97.90,526.36 L98.36,526.35 L98.83,526.35 L99.29,526.35 L99.76,526.35 L100.23,526.35 L100.69,526.35 L101.16,526.35 L101.63,526.35 L102.09,526.34 L102.56,526.34 L103.03,526.34 L103.49,526.34 L103.96,526.34 L104.43,526.34 L104.89,526.34 L105.36,526.34 L105.82,526.33 L106.29,526.33 L106.76,526.33 L107.22,526.33 L107.69,526.33 L108.16,526.33 L108.62,526.33 L109.09,526.33 L109.56,526.32 L110.02,526.32 L110.49,526.32 L110.95,526.32 L111.42,526.32 L111.89,526.32 L112.35,526.32 L112.82,526.31 L113.29,526.31 L113.75,526.31 L114.22,526.31 L114.69,526.31 L115.15,526.31 L115.62,526.30 L116.09,526.30 L116.55,526.30 L117.02,526.30 L117.48,526.30 L117.95,526.30 L118.42,526.30 L118.88,526.29 L119.35,526.29 L119.82,526.29 L120.28,526.29 L120.75,526.29 L121.22,526.29 L121.68,526.28 L122.15,526.28 L122.61,526.28 L123.08,526.28 L123.55,526.28 L124.01,526.28 L124.48,526.27 L124.95,526.27 L125.41,526.27 L125.88,526.27 L126.35,526.27 L126.81,526.26 L127.28,526.26 L127.74,526.26 L128.21,526.26 L128.68,526.26 L129.14,526.26 L129.61,526.25 L130.08,526.25 L130.54,526.25 L131.01,526.25 L131.48,526.25 L131.94,526.24 L132.41,526.24 L132.88,526.24 L133.34,526.24 L133.81,526.24 L134.27,526.23 L134.74,526.23 L135.21,526.23 L135.67,526.23 L136.14,526.23 L136.61,526.22 L137.07,526.22 L137.54,526.22 L138.01,526.22 L138.47,526.22 L138.94,526.21 L139.40,526.21 L139.87,526.21 L140.34,526.21 L140.80,526.20 L141.27,526.20 L141.74,526.20 L142.20,526.20 L142.67,526.20 L143.14,526.19 L143.60,526.19 L144.07,526.19 L144.54,526.19 L145.00,526.18 L145.47,526.18 L145.93,526.18 L146.40,526.17 L146.87,526.17 L147.33,526.16 L147.80,526.16 L148.27,526.15 L148.73,526.14 L149.20,526.14 L149.67,526.13 L150.13,526.12 L150.60,526.11 L151.06,526.10 L151.53,526.09 L152.00,526.08 L152.46,526.07 L152.93,526.06 L153.40,526.05 L153.86,526.04 L154.33,526.03 L154.80,526.01 L155.26,526.00 L155.73,525.99 L156.20,525.98 L156.66,525.96 L157.13,525.95 L157.59,525.93 L158.06,525.92 L158.53,525.90 L158.99,525.89 L159.46,525.87 L159.93,525.86 L160.39,525.84 L160.86,525.83 L161.33,525.81 L161.79,525.79 L162.26,525.78 L162.72,525.76 L163.19,525.74 L163.66,525.72 L164.12,525.71 L164.59,525.69 L165.06,525.67 L165.52,525.65 L165.99,525.64 L166.46,525.62 L166.92,525.60 L167.39,525.58 L167.86,525.56 L168.32,525.54 L168.79,525.52 L169.25,525.50 L169.72,525.49 L170.19,525.47 L170.65,525.45 L171.12,525.43 L171.59,525.41 L172.05,525.39 L172.52,525.37 L172.99,525.35 L173.45,525.33 L173.92,525.32 L174.38,525.30 L174.85,525.28 L175.32,525.26 L175.78,525.24 L176.25,525.22 L176.72,525.20 L177.18,525.18 L177.65,525.16 L178.12,525.14 L178.58,525.12 L179.05,525.09 L179.52,525.07 L179.98,525.04 L180.45,525.01 L180.91,524.98 L181.38,524.95 L181.85,524.91 L182.31,524.87 L182.78,524.83 L183.25,524.79 L183.71,524.75 L184.18,524.70 L184.65,524.65 L185.11,524.60 L185.58,524.54 L186.04,524.47 L186.51,524.39 L186.98,524.30 L187.44,524.18 L187.91,524.03 L188.38,523.85 L188.84,523.63 L189.31,523.38 L189.78,523.07 L190.24,522.72 L190.71,522.31 L191.17,521.41 L191.64,518.92 L192.11,515.51 L192.57,509.85 L193.04,503.72 L193.51,498.05 L193.97,492.22 L194.44,485.80 L194.91,478.17 L195.37,469.04 L195.84,459.47 L196.31,450.60 L196.77,441.90 L197.24,432.85 L197.70,423.99 L198.17,415.87 L198.64,409.02 L199.10,403.98 L199.57,400.71 L200.04,397.73 L200.50,395.07 L200.97,392.84 L201.44,391.17 L201.90,390.19 L202.37,390.03 L202.83,390.94 L203.30,392.76 L203.77,395.25 L204.23,398.14 L204.70,401.19 L205.17,404.55 L205.63,409.00 L206.10,414.17 L206.57,419.58 L207.03,424.77 L207.50,429.39 L207.97,433.68 L208.43,437.85 L208.90,442.02 L209.36,446.32 L209.83,450.91 L210.30,456.06 L210.76,461.83 L211.23,467.82 L211.70,473.64 L212.16,478.92 L212.63,483.26 L213.10,486.85 L213.56,490.22 L214.03,493.36 L214.49,496.26 L214.96,498.91 L215.43,501.28 L215.89,503.37 L216.36,505.17 L216.83,506.74 L217.29,508.22 L217.76,509.60 L218.23,510.87 L218.69,512.04 L219.16,513.09 L219.63,514.03 L220.09,514.86 L220.56,515.57 L221.02,516.19 L221.49,516.78 L221.96,517.34 L222.42,517.88 L222.89,518.39 L223.36,518.88 L223.82,519.33 L224.29,519.76 L224.76,520.16 L225.22,520.53 L225.69,520.88 L226.15,521.19 L226.62,521.47 L227.09,521.72 L227.55,521.94 L228.02,522.13 L228.49,522.29 L228.95,522.45 L229.42,522.60 L229.89,522.75 L230.35,522.89 L230.82,523.03 L231.29,523.16 L231.75,523.28 L232.22,523.40 L232.68,523.51 L233.15,523.61 L233.62,523.70 L234.08,523.79 L234.55,523.87 L235.02,523.94 L235.48,524.00 L235.95,524.06 L236.42,524.10 L236.88,524.14 L237.35,524.17 L237.81,524.19 L238.28,524.21 L238.75,524.23 L239.21,524.25 L239.68,524.27 L240.15,524.29 L240.61,524.30 L241.08,524.32 L241.55,524.33 L242.01,524.35 L242.48,524.36 L242.95,524.37 L243.41,524.38 L243.88,524.39 L244.34,524.40 L244.81,524.40 L245.28,524.41 L245.74,524.41 L246.21,524.41 L246.68,524.41 L247.14,524.41 L247.61,524.37 L248.08,524.32 L248.54,524.26 L249.01,524.18 L249.47,524.09 L249.94,524.00 L250.41,523.90 L250.87,523.80 L251.34,523.71 L251.81,523.62 L252.27,523.54 L252.74,523.47 L253.21,523.42 L253.67,523.38 L254.14,523.37 L254.60,523.37 L255.07,523.39 L255.54,523.43 L256.00,523.47 L256.47,523.53 L256.94,523.59 L257.40,523.66 L257.87,523.74 L258.34,523.82 L258.80,523.90 L259.27,523.98 L259.74,524.07 L260.20,524.15 L260.67,524.23 L261.13,524.31 L261.60,524.38 L262.07,524.44 L262.53,524.50 L263.00,524.54 L263.47,524.57 L263.93,524.60 L264.40,524.63 L264.87,524.65 L265.33,524.68 L265.80,524.70 L266.26,524.73 L266.73,524.75 L267.20,524.77 L267.66,524.80 L268.13,524.82 L268.60,524.84 L269.06,524.86 L269.53,524.88 L270.00,524.89 L270.46,524.91 L270.93,524.92 L271.40,524.93 L271.86,524.95 L272.33,524.96 L272.79,524.96 L273.26,524.97 L273.73,524.98 L274.19,524.98 L274.66,524.98" fill="none" stroke="#d0637a" stroke-width="0.95" stroke-linejoin="round"/>
<path d="M32.60,527.56 L33.07,527.56 L33.53,527.56 L34.00,527.56 L34.47,527.56 L34.93,527.56 L35.40,527.56 L35.86,527.56 L36.33,527.56 L36.80,527.56 L37.26,527.56 L37.73,527.56 L38.20,527.56 L38.66,527.56 L39.13,527.56 L39.60,527.56 L40.06,527.56 L40.53,527.56 L41.00,527.56 L41.46,527.56 L41.93,527.56 L42.39,527.56 L42.86,527.56 L43.33,527.56 L43.79,527.56 L44.26,527.56 L44.73,527.56 L45.19,527.56 L45.66,527.56 L46.13,527.56 L46.59,527.56 L47.06,527.56 L47.52,527.56 L47.99,527.56 L48.46,527.55 L48.92,527.55 L49.39,527.55 L49.86,527.55 L50.32,527.55 L50.79,527.55 L51.26,527.55 L51.72,527.55 L52.19,527.55 L52.66,527.55 L53.12,527.55 L53.59,527.55 L54.05,527.55 L54.52,527.55 L54.99,527.55 L55.45,527.55 L55.92,527.55 L56.39,527.55 L56.85,527.55 L57.32,527.55 L57.79,527.55 L58.25,527.55 L58.72,527.55 L59.18,527.55 L59.65,527.55 L60.12,527.55 L60.58,527.55 L61.05,527.55 L61.52,527.55 L61.98,527.55 L62.45,527.55 L62.92,527.55 L63.38,527.54 L63.85,527.54 L64.31,527.54 L64.78,527.54 L65.25,527.54 L65.71,527.54 L66.18,527.54 L66.65,527.54 L67.11,527.54 L67.58,527.54 L68.05,527.54 L68.51,527.54 L68.98,527.54 L69.45,527.54 L69.91,527.54 L70.38,527.54 L70.84,527.54 L71.31,527.54 L71.78,527.54 L72.24,527.53 L72.71,527.53 L73.18,527.53 L73.64,527.53 L74.11,527.53 L74.58,527.53 L75.04,527.53 L75.51,527.53 L75.97,527.53 L76.44,527.53 L76.91,527.53 L77.37,527.53 L77.84,527.53 L78.31,527.53 L78.77,527.53 L79.24,527.52 L79.71,527.52 L80.17,527.52 L80.64,527.52 L81.11,527.52 L81.57,527.52 L82.04,527.52 L82.50,527.52 L82.97,527.52 L83.44,527.52 L83.90,527.52 L84.37,527.52 L84.84,527.52 L85.30,527.51 L85.77,527.51 L86.24,527.51 L86.70,527.51 L87.17,527.51 L87.63,527.51 L88.10,527.51 L88.57,527.51 L89.03,527.51 L89.50,527.51 L89.97,527.51 L90.43,527.50 L90.90,527.50 L91.37,527.50 L91.83,527.50 L92.30,527.50 L92.77,527.50 L93.23,527.50 L93.70,527.50 L94.16,527.50 L94.63,527.50 L95.10,527.49 L95.56,527.49 L96.03,527.49 L96.50,527.49 L96.96,527.49 L97.43,527.49 L97.90,527.49 L98.36,527.49 L98.83,527.49 L99.29,527.48 L99.76,527.48 L100.23,527.48 L100.69,527.48 L101.16,527.48 L101.63,527.48 L102.09,527.48 L102.56,527.48 L103.03,527.47 L103.49,527.47 L103.96,527.47 L104.43,527.47 L104.89,527.47 L105.36,527.47 L105.82,527.47 L106.29,527.47 L106.76,527.46 L107.22,527.46 L107.69,527.46 L108.16,527.46 L108.62,527.46 L109.09,527.46 L109.56,527.46 L110.02,527.45 L110.49,527.45 L110.95,527.45 L111.42,527.45 L111.89,527.45 L112.35,527.45 L112.82,527.45 L113.29,527.44 L113.75,527.44 L114.22,527.44 L114.69,527.44 L115.15,527.44 L115.62,527.44 L116.09,527.44 L116.55,527.43 L117.02,527.43 L117.48,527.43 L117.95,527.43 L118.42,527.43 L118.88,527.43 L119.35,527.42 L119.82,527.42 L120.28,527.42 L120.75,527.42 L121.22,527.42 L121.68,527.42 L122.15,527.41 L122.61,527.41 L123.08,527.41 L123.55,527.41 L124.01,527.41 L124.48,527.41 L124.95,527.40 L125.41,527.40 L125.88,527.40 L126.35,527.40 L126.81,527.40 L127.28,527.39 L127.74,527.39 L128.21,527.39 L128.68,527.39 L129.14,527.39 L129.61,527.38 L130.08,527.38 L130.54,527.38 L131.01,527.38 L131.48,527.38 L131.94,527.37 L132.41,527.37 L132.88,527.37 L133.34,527.37 L133.81,527.37 L134.27,527.36 L134.74,527.36 L135.21,527.36 L135.67,527.36 L136.14,527.36 L136.61,527.35 L137.07,527.35 L137.54,527.35 L138.01,527.35 L138.47,527.35 L138.94,527.34 L139.40,527.34 L139.87,527.34 L140.34,527.34 L140.80,527.33 L141.27,527.33 L141.74,527.33 L142.20,527.33 L142.67,527.32 L143.14,527.32 L143.60,527.32 L144.07,527.32 L144.54,527.32 L145.00,527.31 L145.47,527.31 L145.93,527.30 L146.40,527.30 L146.87,527.29 L147.33,527.28 L147.80,527.27 L148.27,527.26 L148.73,527.25 L149.20,527.24 L149.67,527.23 L150.13,527.21 L150.60,527.20 L151.06,527.18 L151.53,527.17 L152.00,527.15 L152.46,527.13 L152.93,527.12 L153.40,527.10 L153.86,527.08 L154.33,527.06 L154.80,527.03 L155.26,527.01 L155.73,526.99 L156.20,526.97 L156.66,526.94 L157.13,526.92 L157.59,526.89 L158.06,526.86 L158.53,526.84 L158.99,526.81 L159.46,526.78 L159.93,526.75 L160.39,526.72 L160.86,526.69 L161.33,526.66 L161.79,526.63 L162.26,526.60 L162.72,526.56 L163.19,526.53 L163.66,526.50 L164.12,526.46 L164.59,526.43 L165.06,526.39 L165.52,526.36 L165.99,526.32 L166.46,526.28 L166.92,526.24 L167.39,526.21 L167.86,526.17 L168.32,526.13 L168.79,526.09 L169.25,526.05 L169.72,526.01 L170.19,525.97 L170.65,525.93 L171.12,525.89 L171.59,525.85 L172.05,525.80 L172.52,525.76 L172.99,525.71 L173.45,525.67 L173.92,525.62 L174.38,525.56 L174.85,525.51 L175.32,525.44 L175.78,525.38 L176.25,525.31 L176.72,525.24 L177.18,525.16 L177.65,525.08 L178.12,524.99 L178.58,524.90 L179.05,524.80 L179.52,524.70 L179.98,524.59 L180.45,524.47 L180.91,524.35 L181.38,524.22 L181.85,524.09 L182.31,523.94 L182.78,523.76 L183.25,523.57 L183.71,523.34 L184.18,523.09 L184.65,522.80 L185.11,522.48 L185.58,522.12 L186.04,521.71 L186.51,521.25 L186.98,520.74 L187.44,520.08 L187.91,518.96 L188.38,517.44 L188.84,515.63 L189.31,513.64 L189.78,511.58 L190.24,509.34 L190.71,506.47 L191.17,502.17 L191.64,495.68 L192.11,487.87 L192.57,479.39 L193.04,468.95 L193.51,458.14 L193.97,449.03 L194.44,441.30 L194.91,434.23 L195.37,427.63 L195.84,421.27 L196.31,414.64 L196.77,408.28 L197.24,403.04 L197.70,399.68 L198.17,397.06 L198.64,394.90 L199.10,393.52 L199.57,393.22 L200.04,393.69 L200.50,394.67 L200.97,396.08 L201.44,397.85 L201.90,400.32 L202.37,405.63 L202.83,412.94 L203.30,420.88 L203.77,428.58 L204.23,437.27 L204.70,445.98 L205.17,453.39 L205.63,460.19 L206.10,466.67 L206.57,472.65 L207.03,477.96 L207.50,482.41 L207.97,486.04 L208.43,489.34 L208.90,492.35 L209.36,495.11 L209.83,497.63 L210.30,499.94 L210.76,502.06 L211.23,504.02 L211.70,505.84 L212.16,507.59 L212.63,509.27 L213.10,510.85 L213.56,512.30 L214.03,513.58 L214.49,514.67 L214.96,515.53 L215.43,516.21 L215.89,516.85 L216.36,517.46 L216.83,518.04 L217.29,518.58 L217.76,519.10 L218.23,519.58 L218.69,520.04 L219.16,520.48 L219.63,520.88 L220.09,521.27 L220.56,521.62 L221.02,521.96 L221.49,522.27 L221.96,522.56 L222.42,522.83 L222.89,523.09 L223.36,523.32 L223.82,523.53 L224.29,523.73 L224.76,523.92 L225.22,524.10 L225.69,524.27 L226.15,524.45 L226.62,524.61 L227.09,524.77 L227.55,524.93 L228.02,525.07 L228.49,525.21 L228.95,525.35 L229.42,525.47 L229.89,525.59 L230.35,525.70 L230.82,525.80 L231.29,525.89 L231.75,525.97 L232.22,526.04 L232.68,526.10 L233.15,526.15 L233.62,526.18 L234.08,526.21 L234.55,526.24 L235.02,526.27 L235.48,526.30 L235.95,526.33 L236.42,526.35 L236.88,526.38 L237.35,526.41 L237.81,526.43 L238.28,526.46 L238.75,526.49 L239.21,526.51 L239.68,526.54 L240.15,526.56 L240.61,526.58 L241.08,526.61 L241.55,526.63 L242.01,526.65 L242.48,526.68 L242.95,526.70 L243.41,526.72 L243.88,526.74 L244.34,526.76 L244.81,526.78 L245.28,526.80 L245.74,526.82 L246.21,526.84 L246.68,526.86 L247.14,526.88 L247.61,526.90 L248.08,526.92 L248.54,526.93 L249.01,526.95 L249.47,526.97 L249.94,526.98 L250.41,527.00 L250.87,527.02 L251.34,527.03 L251.81,527.05 L252.27,527.06 L252.74,527.08 L253.21,527.09 L253.67,527.10 L254.14,527.12 L254.60,527.13 L255.07,527.14 L255.54,527.16 L256.00,527.17 L256.47,527.18 L256.94,527.19 L257.40,527.20 L257.87,527.21 L258.34,527.22 L258.80,527.23 L259.27,527.24 L259.74,527.25 L260.20,527.26 L260.67,527.27 L261.13,527.28 L261.60,527.29 L262.07,527.30 L262.53,527.30 L263.00,527.31 L263.47,527.32 L263.93,527.32 L264.40,527.33 L264.87,527.34 L265.33,527.34 L265.80,527.35 L266.26,527.35 L266.73,527.36 L267.20,527.36 L267.66,527.37 L268.13,527.37 L268.60,527.37 L269.06,527.38 L269.53,527.38 L270.00,527.38 L270.46,527.39 L270.93,527.39 L271.40,527.39 L271.86,527.39 L272.33,527.39 L272.79,527.39 L273.26,527.40 L273.73,527.40 L274.19,527.40 L274.66,527.40" fill="none" stroke="#e4a64a" stroke-width="0.95" stroke-linejoin="round"/>
<path d="M32.60,527.56 L33.07,527.56 L33.53,527.56 L34.00,527.56 L34.47,527.56 L34.93,527.56 L35.40,527.56 L35.86,527.56 L36.33,527.56 L36.80,527.56 L37.26,527.56 L37.73,527.56 L38.20,527.56 L38.66,527.56 L39.13,527.56 L39.60,527.56 L40.06,527.56 L40.53,527.56 L41.00,527.56 L41.46,527.56 L41.93,527.56 L42.39,527.56 L42.86,527.56 L43.33,527.56 L43.79,527.56 L44.26,527.56 L44.73,527.56 L45.19,527.56 L45.66,527.56 L46.13,527.56 L46.59,527.56 L47.06,527.56 L47.52,527.56 L47.99,527.56 L48.46,527.55 L48.92,527.55 L49.39,527.55 L49.86,527.55 L50.32,527.55 L50.79,527.55 L51.26,527.55 L51.72,527.55 L52.19,527.55 L52.66,527.55 L53.12,527.55 L53.59,527.55 L54.05,527.55 L54.52,527.55 L54.99,527.55 L55.45,527.55 L55.92,527.55 L56.39,527.55 L56.85,527.55 L57.32,527.55 L57.79,527.55 L58.25,527.55 L58.72,527.55 L59.18,527.55 L59.65,527.55 L60.12,527.55 L60.58,527.55 L61.05,527.55 L61.52,527.55 L61.98,527.55 L62.45,527.55 L62.92,527.55 L63.38,527.54 L63.85,527.54 L64.31,527.54 L64.78,527.54 L65.25,527.54 L65.71,527.54 L66.18,527.54 L66.65,527.54 L67.11,527.54 L67.58,527.54 L68.05,527.54 L68.51,527.54 L68.98,527.54 L69.45,527.54 L69.91,527.54 L70.38,527.54 L70.84,527.54 L71.31,527.54 L71.78,527.54 L72.24,527.53 L72.71,527.53 L73.18,527.53 L73.64,527.53 L74.11,527.53 L74.58,527.53 L75.04,527.53 L75.51,527.53 L75.97,527.53 L76.44,527.53 L76.91,527.53 L77.37,527.53 L77.84,527.53 L78.31,527.53 L78.77,527.53 L79.24,527.52 L79.71,527.52 L80.17,527.52 L80.64,527.52 L81.11,527.52 L81.57,527.52 L82.04,527.52 L82.50,527.52 L82.97,527.52 L83.44,527.52 L83.90,527.52 L84.37,527.52 L84.84,527.52 L85.30,527.51 L85.77,527.51 L86.24,527.51 L86.70,527.51 L87.17,527.51 L87.63,527.51 L88.10,527.51 L88.57,527.51 L89.03,527.51 L89.50,527.51 L89.97,527.51 L90.43,527.50 L90.90,527.50 L91.37,527.50 L91.83,527.50 L92.30,527.50 L92.77,527.50 L93.23,527.50 L93.70,527.50 L94.16,527.50 L94.63,527.50 L95.10,527.49 L95.56,527.49 L96.03,527.49 L96.50,527.49 L96.96,527.49 L97.43,527.49 L97.90,527.49 L98.36,527.49 L98.83,527.49 L99.29,527.48 L99.76,527.48 L100.23,527.48 L100.69,527.48 L101.16,527.48 L101.63,527.48 L102.09,527.48 L102.56,527.48 L103.03,527.47 L103.49,527.47 L103.96,527.47 L104.43,527.47 L104.89,527.47 L105.36,527.47 L105.82,527.47 L106.29,527.47 L106.76,527.46 L107.22,527.46 L107.69,527.46 L108.16,527.46 L108.62,527.46 L109.09,527.46 L109.56,527.46 L110.02,527.45 L110.49,527.45 L110.95,527.45 L111.42,527.45 L111.89,527.45 L112.35,527.45 L112.82,527.45 L113.29,527.44 L113.75,527.44 L114.22,527.44 L114.69,527.44 L115.15,527.44 L115.62,527.44 L116.09,527.44 L116.55,527.43 L117.02,527.43 L117.48,527.43 L117.95,527.43 L118.42,527.43 L118.88,527.43 L119.35,527.42 L119.82,527.42 L120.28,527.42 L120.75,527.42 L121.22,527.42 L121.68,527.42 L122.15,527.41 L122.61,527.41 L123.08,527.41 L123.55,527.41 L124.01,527.41 L124.48,527.41 L124.95,527.40 L125.41,527.40 L125.88,527.40 L126.35,527.40 L126.81,527.40 L127.28,527.39 L127.74,527.39 L128.21,527.39 L128.68,527.39 L129.14,527.39 L129.61,527.38 L130.08,527.38 L130.54,527.38 L131.01,527.38 L131.48,527.38 L131.94,527.37 L132.41,527.37 L132.88,527.37 L133.34,527.37 L133.81,527.37 L134.27,527.36 L134.74,527.36 L135.21,527.36 L135.67,527.36 L136.14,527.36 L136.61,527.35 L137.07,527.35 L137.54,527.35 L138.01,527.35 L138.47,527.35 L138.94,527.34 L139.40,527.34 L139.87,527.34 L140.34,527.34 L140.80,527.33 L141.27,527.33 L141.74,527.33 L142.20,527.33 L142.67,527.32 L143.14,527.32 L143.60,527.32 L144.07,527.32 L144.54,527.32 L145.00,527.31 L145.47,527.31 L145.93,527.30 L146.40,527.30 L146.87,527.29 L147.33,527.28 L147.80,527.27 L148.27,527.26 L148.73,527.25 L149.20,527.24 L149.67,527.23 L150.13,527.22 L150.60,527.21 L151.06,527.19 L151.53,527.18 L152.00,527.16 L152.46,527.14 L152.93,527.13 L153.40,527.11 L153.86,527.09 L154.33,527.07 L154.80,527.05 L155.26,527.03 L155.73,527.01 L156.20,526.98 L156.66,526.96 L157.13,526.94 L157.59,526.91 L158.06,526.88 L158.53,526.86 L158.99,526.83 L159.46,526.80 L159.93,526.77 L160.39,526.75 L160.86,526.72 L161.33,526.68 L161.79,526.65 L162.26,526.62 L162.72,526.59 L163.19,526.56 L163.66,526.52 L164.12,526.49 L164.59,526.45 L165.06,526.42 L165.52,526.38 L165.99,526.34 L166.46,526.30 L166.92,526.27 L167.39,526.23 L167.86,526.19 L168.32,526.15 L168.79,526.11 L169.25,526.06 L169.72,526.02 L170.19,525.98 L170.65,525.94 L171.12,525.89 L171.59,525.85 L172.05,525.80 L172.52,525.76 L172.99,525.71 L173.45,525.65 L173.92,525.59 L174.38,525.52 L174.85,525.44 L175.32,525.36 L175.78,525.28 L176.25,525.19 L176.72,525.09 L177.18,524.99 L177.65,524.88 L178.12,524.77 L178.58,524.65 L179.05,524.53 L179.52,524.40 L179.98,524.26 L180.45,524.12 L180.91,523.98 L181.38,523.83 L181.85,523.67 L182.31,523.50 L182.78,523.30 L183.25,523.08 L183.71,522.84 L184.18,522.57 L184.65,522.27 L185.11,521.94 L185.58,521.57 L186.04,521.18 L186.51,520.76 L186.98,520.29 L187.44,519.70 L187.91,518.96 L188.38,518.01 L188.84,516.81 L189.31,515.14 L189.78,510.20 L190.24,503.45 L190.71,494.56 L191.17,484.80 L191.64,475.77 L192.11,466.80 L192.57,457.84 L193.04,448.86 L193.51,439.60 L193.97,430.38 L194.44,421.67 L194.91,413.51 L195.37,405.19 L195.84,397.66 L196.31,392.02 L196.77,388.58 L197.24,385.56 L197.70,383.00 L198.17,381.10 L198.64,380.05 L199.10,380.02 L199.57,380.94 L200.04,382.59 L200.50,384.78 L200.97,387.31 L201.44,390.03 L201.90,393.84 L202.37,398.80 L202.83,404.57 L203.30,410.81 L203.77,417.16 L204.23,423.73 L204.70,431.25 L205.17,439.11 L205.63,446.64 L206.10,453.21 L206.57,459.43 L207.03,465.46 L207.50,471.15 L207.97,476.34 L208.43,480.87 L208.90,484.63 L209.36,488.00 L209.83,491.14 L210.30,494.05 L210.76,496.73 L211.23,499.17 L211.70,501.39 L212.16,503.38 L212.63,505.14 L213.10,506.74 L213.56,508.24 L214.03,509.64 L214.49,510.93 L214.96,512.13 L215.43,513.22 L215.89,514.20 L216.36,515.07 L216.83,515.83 L217.29,516.53 L217.76,517.21 L218.23,517.86 L218.69,518.49 L219.16,519.09 L219.63,519.66 L220.09,520.19 L220.56,520.70 L221.02,521.17 L221.49,521.60 L221.96,522.00 L222.42,522.36 L222.89,522.68 L223.36,522.96 L223.82,523.20 L224.29,523.40 L224.76,523.59 L225.22,523.78 L225.69,523.96 L226.15,524.13 L226.62,524.29 L227.09,524.45 L227.55,524.60 L228.02,524.74 L228.49,524.87 L228.95,525.00 L229.42,525.12 L229.89,525.23 L230.35,525.33 L230.82,525.42 L231.29,525.50 L231.75,525.58 L232.22,525.64 L232.68,525.70 L233.15,525.74 L233.62,525.78 L234.08,525.81 L234.55,525.84 L235.02,525.87 L235.48,525.90 L235.95,525.92 L236.42,525.95 L236.88,525.98 L237.35,526.00 L237.81,526.03 L238.28,526.06 L238.75,526.08 L239.21,526.11 L239.68,526.13 L240.15,526.16 L240.61,526.18 L241.08,526.20 L241.55,526.23 L242.01,526.25 L242.48,526.27 L242.95,526.29 L243.41,526.31 L243.88,526.34 L244.34,526.36 L244.81,526.38 L245.28,526.40 L245.74,526.42 L246.21,526.44 L246.68,526.46 L247.14,526.47 L247.61,526.49 L248.08,526.51 L248.54,526.53 L249.01,526.55 L249.47,526.56 L249.94,526.58 L250.41,526.60 L250.87,526.61 L251.34,526.63 L251.81,526.64 L252.27,526.66 L252.74,526.67 L253.21,526.69 L253.67,526.70 L254.14,526.71 L254.60,526.73 L255.07,526.74 L255.54,526.75 L256.00,526.76 L256.47,526.77 L256.94,526.79 L257.40,526.80 L257.87,526.81 L258.34,526.82 L258.80,526.83 L259.27,526.84 L259.74,526.85 L260.20,526.86 L260.67,526.87 L261.13,526.88 L261.60,526.88 L262.07,526.89 L262.53,526.90 L263.00,526.91 L263.47,526.91 L263.93,526.92 L264.40,526.93 L264.87,526.93 L265.33,526.94 L265.80,526.94 L266.26,526.95 L266.73,526.95 L267.20,526.96 L267.66,526.96 L268.13,526.97 L268.60,526.97 L269.06,526.97 L269.53,526.98 L270.00,526.98 L270.46,526.98 L270.93,526.99 L271.40,526.99 L271.86,526.99 L272.33,526.99 L272.79,526.99 L273.26,526.99 L273.73,526.99 L274.19,526.99 L274.66,526.99" fill="none" stroke="#9dc45f" stroke-width="0.95" stroke-linejoin="round"/>
<path d="M32.60,527.32 L33.07,527.32 L33.53,527.31 L34.00,527.31 L34.47,527.31 L34.93,527.31 L35.40,527.31 L35.86,527.31 L36.33,527.31 L36.80,527.31 L37.26,527.30 L37.73,527.30 L38.20,527.30 L38.66,527.30 L39.13,527.30 L39.60,527.29 L40.06,527.29 L40.53,527.29 L41.00,527.28 L41.46,527.28 L41.93,527.28 L42.39,527.28 L42.86,527.27 L43.33,527.27 L43.79,527.27 L44.26,527.26 L44.73,527.26 L45.19,527.25 L45.66,527.25 L46.13,527.25 L46.59,527.24 L47.06,527.24 L47.52,527.23 L47.99,527.23 L48.46,527.23 L48.92,527.22 L49.39,527.22 L49.86,527.21 L50.32,527.21 L50.79,527.20 L51.26,527.20 L51.72,527.19 L52.19,527.19 L52.66,527.18 L53.12,527.18 L53.59,527.17 L54.05,527.16 L54.52,527.16 L54.99,527.15 L55.45,527.15 L55.92,527.14 L56.39,527.13 L56.85,527.13 L57.32,527.12 L57.79,527.12 L58.25,527.11 L58.72,527.10 L59.18,527.10 L59.65,527.09 L60.12,527.08 L60.58,527.08 L61.05,527.07 L61.52,527.06 L61.98,527.06 L62.45,527.05 L62.92,527.04 L63.38,527.04 L63.85,527.03 L64.31,527.02 L64.78,527.01 L65.25,527.01 L65.71,527.00 L66.18,526.99 L66.65,526.98 L67.11,526.98 L67.58,526.97 L68.05,526.96 L68.51,526.95 L68.98,526.95 L69.45,526.94 L69.91,526.93 L70.38,526.92 L70.84,526.91 L71.31,526.91 L71.78,526.90 L72.24,526.89 L72.71,526.88 L73.18,526.87 L73.64,526.87 L74.11,526.86 L74.58,526.85 L75.04,526.84 L75.51,526.83 L75.97,526.82 L76.44,526.82 L76.91,526.81 L77.37,526.80 L77.84,526.79 L78.31,526.78 L78.77,526.77 L79.24,526.76 L79.71,526.76 L80.17,526.75 L80.64,526.74 L81.11,526.73 L81.57,526.72 L82.04,526.71 L82.50,526.70 L82.97,526.70 L83.44,526.69 L83.90,526.68 L84.37,526.67 L84.84,526.66 L85.30,526.65 L85.77,526.64 L86.24,526.63 L86.70,526.62 L87.17,526.62 L87.63,526.61 L88.10,526.60 L88.57,526.59 L89.03,526.58 L89.50,526.57 L89.97,526.56 L90.43,526.55 L90.90,526.54 L91.37,526.53 L91.83,526.52 L92.30,526.51 L92.77,526.50 L93.23,526.49 L93.70,526.48 L94.16,526.47 L94.63,526.46 L95.10,526.45 L95.56,526.44 L96.03,526.43 L96.50,526.42 L96.96,526.41 L97.43,526.40 L97.90,526.38 L98.36,526.37 L98.83,526.36 L99.29,526.35 L99.76,526.34 L100.23,526.32 L100.69,526.31 L101.16,526.30 L101.63,526.29 L102.09,526.27 L102.56,526.26 L103.03,526.25 L103.49,526.23 L103.96,526.22 L104.43,526.21 L104.89,526.19 L105.36,526.18 L105.82,526.16 L106.29,526.15 L106.76,526.13 L107.22,526.12 L107.69,526.11 L108.16,526.09 L108.62,526.07 L109.09,526.06 L109.56,526.04 L110.02,526.03 L110.49,526.01 L110.95,526.00 L111.42,525.98 L111.89,525.96 L112.35,525.95 L112.82,525.93 L113.29,525.91 L113.75,525.89 L114.22,525.88 L114.69,525.86 L115.15,525.84 L115.62,525.82 L116.09,525.81 L116.55,525.79 L117.02,525.77 L117.48,525.75 L117.95,525.73 L118.42,525.71 L118.88,525.69 L119.35,525.67 L119.82,525.65 L120.28,525.63 L120.75,525.61 L121.22,525.59 L121.68,525.57 L122.15,525.55 L122.61,525.53 L123.08,525.51 L123.55,525.48 L124.01,525.46 L124.48,525.44 L124.95,525.42 L125.41,525.40 L125.88,525.37 L126.35,525.35 L126.81,525.33 L127.28,525.30 L127.74,525.28 L128.21,525.25 L128.68,525.23 L129.14,525.20 L129.61,525.17 L130.08,525.15 L130.54,525.12 L131.01,525.09 L131.48,525.06 L131.94,525.03 L132.41,525.00 L132.88,524.97 L133.34,524.94 L133.81,524.90 L134.27,524.87 L134.74,524.84 L135.21,524.80 L135.67,524.77 L136.14,524.73 L136.61,524.70 L137.07,524.66 L137.54,524.62 L138.01,524.58 L138.47,524.54 L138.94,524.50 L139.40,524.46 L139.87,524.42 L140.34,524.37 L140.80,524.33 L141.27,524.29 L141.74,524.24 L142.20,524.19 L142.67,524.15 L143.14,524.10 L143.60,524.05 L144.07,524.00 L144.54,523.95 L145.00,523.89 L145.47,523.84 L145.93,523.79 L146.40,523.73 L146.87,523.68 L147.33,523.62 L147.80,523.56 L148.27,523.50 L148.73,523.44 L149.20,523.38 L149.67,523.32 L150.13,523.26 L150.60,523.19 L151.06,523.12 L151.53,523.04 L152.00,522.96 L152.46,522.88 L152.93,522.79 L153.40,522.69 L153.86,522.60 L154.33,522.50 L154.80,522.39 L155.26,522.28 L155.73,522.17 L156.20,522.05 L156.66,521.92 L157.13,521.80 L157.59,521.67 L158.06,521.53 L158.53,521.39 L158.99,521.25 L159.46,521.10 L159.93,520.94 L160.39,520.79 L160.86,520.62 L161.33,520.46 L161.79,520.29 L162.26,520.12 L162.72,519.93 L163.19,519.73 L163.66,519.49 L164.12,519.22 L164.59,518.92 L165.06,518.56 L165.52,518.15 L165.99,517.57 L166.46,516.67 L166.92,515.49 L167.39,514.04 L167.86,512.32 L168.32,510.36 L168.79,508.17 L169.25,505.77 L169.72,503.15 L170.19,499.27 L170.65,493.91 L171.12,487.50 L171.59,480.50 L172.05,473.33 L172.52,466.45 L172.99,460.13 L173.45,453.33 L173.92,446.45 L174.38,440.37 L174.85,435.96 L175.32,432.73 L175.78,429.68 L176.25,426.96 L176.72,424.73 L177.18,423.12 L177.65,422.29 L178.12,422.34 L178.58,423.06 L179.05,424.29 L179.52,425.89 L179.98,427.73 L180.45,429.66 L180.91,431.55 L181.38,433.44 L181.85,435.59 L182.31,437.97 L182.78,440.53 L183.25,443.46 L183.71,446.72 L184.18,450.18 L184.65,453.66 L185.11,457.03 L185.58,460.13 L186.04,462.84 L186.51,465.37 L186.98,467.77 L187.44,470.06 L187.91,472.26 L188.38,474.35 L188.84,476.36 L189.31,478.30 L189.78,480.16 L190.24,481.96 L190.71,483.68 L191.17,485.35 L191.64,486.96 L192.11,488.53 L192.57,490.04 L193.04,491.51 L193.51,492.96 L193.97,494.38 L194.44,495.78 L194.91,497.12 L195.37,498.42 L195.84,499.65 L196.31,500.81 L196.77,501.88 L197.24,502.89 L197.70,503.85 L198.17,504.77 L198.64,505.65 L199.10,506.48 L199.57,507.29 L200.04,508.05 L200.50,508.77 L200.97,509.46 L201.44,510.12 L201.90,510.76 L202.37,511.37 L202.83,511.97 L203.30,512.55 L203.77,513.10 L204.23,513.64 L204.70,514.15 L205.17,514.65 L205.63,515.12 L206.10,515.57 L206.57,516.00 L207.03,516.41 L207.50,516.81 L207.97,517.21 L208.43,517.59 L208.90,517.97 L209.36,518.32 L209.83,518.66 L210.30,518.98 L210.76,519.28 L211.23,519.55 L211.70,519.80 L212.16,520.01 L212.63,520.20 L213.10,520.38 L213.56,520.55 L214.03,520.70 L214.49,520.85 L214.96,520.98 L215.43,521.11 L215.89,521.24 L216.36,521.37 L216.83,521.49 L217.29,521.62 L217.76,521.75 L218.23,521.88 L218.69,522.02 L219.16,522.17 L219.63,522.31 L220.09,522.45 L220.56,522.58 L221.02,522.72 L221.49,522.84 L221.96,522.95 L222.42,523.05 L222.89,523.14 L223.36,523.21 L223.82,523.27 L224.29,523.31 L224.76,523.34 L225.22,523.38 L225.69,523.41 L226.15,523.45 L226.62,523.48 L227.09,523.51 L227.55,523.54 L228.02,523.56 L228.49,523.59 L228.95,523.61 L229.42,523.64 L229.89,523.66 L230.35,523.68 L230.82,523.70 L231.29,523.71 L231.75,523.73 L232.22,523.74 L232.68,523.75 L233.15,523.76 L233.62,523.76 L234.08,523.77 L234.55,523.77 L235.02,523.77 L235.48,523.77 L235.95,523.76 L236.42,523.76 L236.88,523.75 L237.35,523.74 L237.81,523.73 L238.28,523.72 L238.75,523.71 L239.21,523.70 L239.68,523.68 L240.15,523.66 L240.61,523.65 L241.08,523.63 L241.55,523.61 L242.01,523.59 L242.48,523.57 L242.95,523.55 L243.41,523.53 L243.88,523.50 L244.34,523.48 L244.81,523.46 L245.28,523.44 L245.74,523.41 L246.21,523.39 L246.68,523.37 L247.14,523.34 L247.61,523.31 L248.08,523.27 L248.54,523.23 L249.01,523.19 L249.47,523.14 L249.94,523.09 L250.41,523.04 L250.87,523.00 L251.34,522.95 L251.81,522.91 L252.27,522.88 L252.74,522.85 L253.21,522.82 L253.67,522.81 L254.14,522.80 L254.60,522.81 L255.07,522.82 L255.54,522.85 L256.00,522.88 L256.47,522.93 L256.94,522.98 L257.40,523.03 L257.87,523.09 L258.34,523.15 L258.80,523.22 L259.27,523.29 L259.74,523.35 L260.20,523.42 L260.67,523.48 L261.13,523.54 L261.60,523.60 L262.07,523.65 L262.53,523.70 L263.00,523.74 L263.47,523.77 L263.93,523.79 L264.40,523.82 L264.87,523.84 L265.33,523.87 L265.80,523.89 L266.26,523.92 L266.73,523.94 L267.20,523.96 L267.66,523.99 L268.13,524.01 L268.60,524.03 L269.06,524.05 L269.53,524.07 L270.00,524.08 L270.46,524.10 L270.93,524.11 L271.40,524.13 L271.86,524.14 L272.33,524.15 L272.79,524.16 L273.26,524.16 L273.73,524.17 L274.19,524.17 L274.66,524.17" fill="none" stroke="#e0603f" stroke-width="0.95" stroke-linejoin="round"/>
<line x1="33.00" y1="366.20" x2="33.00" y2="528.70" stroke="#231f20" stroke-width="1.8"/>
<line x1="25.80" y1="527.80" x2="274.60" y2="527.80" stroke="#231f20" stroke-width="1.8"/>
<line x1="25.80" y1="487.50" x2="33.00" y2="487.50" stroke="#231f20" stroke-width="1.8"/>
<line x1="25.80" y1="447.20" x2="33.00" y2="447.20" stroke="#231f20" stroke-width="1.8"/>
<line x1="25.80" y1="406.90" x2="33.00" y2="406.90" stroke="#231f20" stroke-width="1.8"/>
<line x1="25.80" y1="366.60" x2="33.00" y2="366.60" stroke="#231f20" stroke-width="1.8"/>
<text transform="translate(22.60 530.70) scale(1.0 1.06)" font-size="9.5" text-anchor="end" fill="#231f20" font-weight="bold">0</text>
<text transform="translate(22.60 490.40) scale(1.0 1.06)" font-size="9.5" text-anchor="end" fill="#231f20" font-weight="bold">5</text>
<text transform="translate(22.60 450.10) scale(1.0 1.06)" font-size="9.5" text-anchor="end" fill="#231f20" font-weight="bold">10</text>
<text transform="translate(22.60 409.80) scale(1.0 1.06)" font-size="9.5" text-anchor="end" fill="#231f20" font-weight="bold">15</text>
<text transform="translate(22.60 369.50) scale(1.0 1.06)" font-size="9.5" text-anchor="end" fill="#231f20" font-weight="bold">20</text>
<line x1="51.22" y1="527.80" x2="51.22" y2="535.00" stroke="#231f20" stroke-width="1.8"/>
<text transform="translate(51.22 545.40) scale(1.0 1.06)" font-size="9.5" text-anchor="middle" fill="#231f20" font-weight="bold">8</text>
<line x1="69.84" y1="527.80" x2="69.84" y2="531.50" stroke="#231f20" stroke-width="1.8"/>
<line x1="88.46" y1="527.80" x2="88.46" y2="535.00" stroke="#231f20" stroke-width="1.8"/>
<text transform="translate(88.46 545.40) scale(1.0 1.06)" font-size="9.5" text-anchor="middle" fill="#231f20" font-weight="bold">10</text>
<line x1="107.08" y1="527.80" x2="107.08" y2="531.50" stroke="#231f20" stroke-width="1.8"/>
<line x1="125.70" y1="527.80" x2="125.70" y2="535.00" stroke="#231f20" stroke-width="1.8"/>
<text transform="translate(125.70 545.40) scale(1.0 1.06)" font-size="9.5" text-anchor="middle" fill="#231f20" font-weight="bold">12</text>
<line x1="144.32" y1="527.80" x2="144.32" y2="531.50" stroke="#231f20" stroke-width="1.8"/>
<line x1="162.94" y1="527.80" x2="162.94" y2="535.00" stroke="#231f20" stroke-width="1.8"/>
<text transform="translate(162.94 545.40) scale(1.0 1.06)" font-size="9.5" text-anchor="middle" fill="#231f20" font-weight="bold">14</text>
<line x1="181.56" y1="527.80" x2="181.56" y2="531.50" stroke="#231f20" stroke-width="1.8"/>
<line x1="200.18" y1="527.80" x2="200.18" y2="535.00" stroke="#231f20" stroke-width="1.8"/>
<text transform="translate(200.18 545.40) scale(1.0 1.06)" font-size="9.5" text-anchor="middle" fill="#231f20" font-weight="bold">16</text>
<line x1="218.80" y1="527.80" x2="218.80" y2="531.50" stroke="#231f20" stroke-width="1.8"/>
<line x1="237.42" y1="527.80" x2="237.42" y2="535.00" stroke="#231f20" stroke-width="1.8"/>
<text transform="translate(237.42 545.40) scale(1.0 1.06)" font-size="9.5" text-anchor="middle" fill="#231f20" font-weight="bold">18</text>
<line x1="256.04" y1="527.80" x2="256.04" y2="531.50" stroke="#231f20" stroke-width="1.8"/>
<line x1="274.66" y1="527.80" x2="274.66" y2="535.00" stroke="#231f20" stroke-width="1.8"/>
<text transform="translate(274.66 545.40) scale(1.0 1.06)" font-size="9.5" text-anchor="middle" fill="#231f20" font-weight="bold">20</text>
<text transform="translate(150.30 559.40) scale(1.0 1.06)" font-size="9.7" text-anchor="middle" fill="#231f20" font-weight="bold">Retention volume (ml)</text>
<text transform="translate(7.30 444.10) rotate(-90) scale(1.0 1.12)" font-size="9.5" text-anchor="middle" fill="#231f20" font-weight="bold">mAU</text>
<line x1="262.00" y1="398.00" x2="279.00" y2="398.00" stroke="#e0603f" stroke-width="2"/>
<text transform="translate(284.60 402.40) scale(1.0 1.06)" font-size="9.5" text-anchor="start" fill="#333">WT</text>
<line x1="262.00" y1="416.08" x2="279.00" y2="416.08" stroke="#9dc45f" stroke-width="2"/>
<text transform="translate(284.60 420.48) scale(1.0 1.06)" font-size="9.5" text-anchor="start" fill="#333">R576E</text>
<line x1="262.00" y1="434.16" x2="279.00" y2="434.16" stroke="#e4a64a" stroke-width="2"/>
<text transform="translate(284.60 438.56) scale(1.0 1.06)" font-size="9.5" text-anchor="start" fill="#333">R576D</text>
<line x1="262.00" y1="452.24" x2="279.00" y2="452.24" stroke="#d0637a" stroke-width="2"/>
<text transform="translate(284.60 456.64) scale(1.0 1.06)" font-size="9.5" text-anchor="start" fill="#333">D665R</text>
<line x1="262.00" y1="470.32" x2="279.00" y2="470.32" stroke="#a57bbd" stroke-width="2"/>
<text transform="translate(284.60 474.72) scale(1.0 1.06)" font-size="9.5" text-anchor="start" fill="#333">R576A</text>
<line x1="262.00" y1="488.40" x2="279.00" y2="488.40" stroke="#3ba7a9" stroke-width="2"/>
<text transform="translate(284.60 492.80) scale(1.0 1.06)" font-size="9.5" text-anchor="start" fill="#333">D665A</text>
<text transform="translate(343.40 15.00)" font-size="16.5" text-anchor="start" fill="#231f20">d</text>
<line x1="391.00" y1="42.20" x2="391.00" y2="189.00" stroke="#231f20" stroke-width="1.9"/>
<line x1="390.00" y1="188.00" x2="609.00" y2="188.00" stroke="#231f20" stroke-width="1.9"/>
<line x1="385.20" y1="188.00" x2="391.00" y2="188.00" stroke="#231f20" stroke-width="1.9"/>
<text transform="translate(381.80 190.90) scale(1.0 1.06)" font-size="9.5" text-anchor="end" fill="#231f20" font-weight="bold">0</text>
<line x1="385.20" y1="139.90" x2="391.00" y2="139.90" stroke="#231f20" stroke-width="1.9"/>
<text transform="translate(381.80 142.80) scale(1.0 1.06)" font-size="9.5" text-anchor="end" fill="#231f20" font-weight="bold">2000</text>
<line x1="385.20" y1="91.80" x2="391.00" y2="91.80" stroke="#231f20" stroke-width="1.9"/>
<text transform="translate(381.80 94.70) scale(1.0 1.06)" font-size="9.5" text-anchor="end" fill="#231f20" font-weight="bold">4000</text>
<line x1="385.20" y1="43.70" x2="391.00" y2="43.70" stroke="#231f20" stroke-width="1.9"/>
<text transform="translate(381.80 46.60) scale(1.0 1.06)" font-size="9.5" text-anchor="end" fill="#231f20" font-weight="bold">6000</text>
<text transform="translate(354.20 110.40) rotate(-90) scale(1.0 1.1)" font-size="9.4" text-anchor="middle" fill="#231f20" font-weight="bold">RFU</text>
<line x1="400.80" y1="188.00" x2="400.80" y2="194.20" stroke="#231f20" stroke-width="1.9"/>
<text transform="translate(403.40 204.00) rotate(-45) scale(1.0 1.06)" font-size="9.6" text-anchor="end" fill="#231f20" font-weight="bold">WT no NAD</text>
<line x1="415.92" y1="188.00" x2="415.92" y2="194.20" stroke="#231f20" stroke-width="1.9"/>
<text transform="translate(418.52 204.00) rotate(-45) scale(1.0 1.06)" font-size="9.6" text-anchor="end" fill="#231f20" font-weight="bold">WT</text>
<line x1="431.04" y1="188.00" x2="431.04" y2="194.20" stroke="#231f20" stroke-width="1.9"/>
<text transform="translate(433.64 204.00) rotate(-45) scale(1.0 1.06)" font-size="9.6" text-anchor="end" fill="#231f20" font-weight="bold">R576A</text>
<line x1="446.16" y1="188.00" x2="446.16" y2="194.20" stroke="#231f20" stroke-width="1.9"/>
<text transform="translate(448.76 204.00) rotate(-45) scale(1.0 1.06)" font-size="9.6" text-anchor="end" fill="#231f20" font-weight="bold">R576E</text>
<line x1="461.28" y1="188.00" x2="461.28" y2="194.20" stroke="#231f20" stroke-width="1.9"/>
<text transform="translate(463.88 204.00) rotate(-45) scale(1.0 1.06)" font-size="9.6" text-anchor="end" fill="#231f20" font-weight="bold">R576D</text>
<line x1="476.40" y1="188.00" x2="476.40" y2="194.20" stroke="#231f20" stroke-width="1.9"/>
<text transform="translate(479.00 204.00) rotate(-45) scale(1.0 1.06)" font-size="9.6" text-anchor="end" fill="#231f20" font-weight="bold">D665A</text>
<line x1="491.52" y1="188.00" x2="491.52" y2="194.20" stroke="#231f20" stroke-width="1.9"/>
<text transform="translate(494.12 204.00) rotate(-45) scale(1.0 1.06)" font-size="9.6" text-anchor="end" fill="#231f20" font-weight="bold">D665R</text>
<line x1="506.64" y1="188.00" x2="506.64" y2="194.20" stroke="#231f20" stroke-width="1.9"/>
<text transform="translate(509.24 204.00) rotate(-45) scale(1.0 1.06)" font-size="9.6" text-anchor="end" fill="#231f20" font-weight="bold">R576A + D665A</text>
<line x1="521.76" y1="188.00" x2="521.76" y2="194.20" stroke="#231f20" stroke-width="1.9"/>
<text transform="translate(524.36 204.00) rotate(-45) scale(1.0 1.06)" font-size="9.6" text-anchor="end" fill="#231f20" font-weight="bold">R576A + D665R</text>
<line x1="536.88" y1="188.00" x2="536.88" y2="194.20" stroke="#231f20" stroke-width="1.9"/>
<text transform="translate(539.48 204.00) rotate(-45) scale(1.0 1.06)" font-size="9.6" text-anchor="end" fill="#231f20" font-weight="bold">R576E + D665A</text>
<line x1="552.00" y1="188.00" x2="552.00" y2="194.20" stroke="#231f20" stroke-width="1.9"/>
<text transform="translate(554.60 204.00) rotate(-45) scale(1.0 1.06)" font-size="9.6" text-anchor="end" fill="#231f20" font-weight="bold">R576E + D665R</text>
<line x1="567.12" y1="188.00" x2="567.12" y2="194.20" stroke="#231f20" stroke-width="1.9"/>
<text transform="translate(569.72 204.00) rotate(-45) scale(1.0 1.06)" font-size="9.6" text-anchor="end" fill="#231f20" font-weight="bold">R576D + D665A</text>
<line x1="582.24" y1="188.00" x2="582.24" y2="194.20" stroke="#231f20" stroke-width="1.9"/>
<text transform="translate(584.84 204.00) rotate(-45) scale(1.0 1.06)" font-size="9.6" text-anchor="end" fill="#231f20" font-weight="bold">R576D + D665R</text>
<line x1="597.36" y1="188.00" x2="597.36" y2="194.20" stroke="#231f20" stroke-width="1.9"/>
<text transform="translate(599.96 204.00) rotate(-45) scale(1.0 1.06)" font-size="9.6" text-anchor="end" fill="#231f20" font-weight="bold">no protein control</text>
<circle cx="399.90" cy="172.80" r="3.0" fill="#7c7c7c" stroke="#454545" stroke-width="0.8"/>
<circle cx="397.20" cy="176.60" r="3.0" fill="#7c7c7c" stroke="#454545" stroke-width="0.8"/>
<circle cx="404.30" cy="175.50" r="3.0" fill="#7c7c7c" stroke="#454545" stroke-width="0.8"/>
<line x1="395.90" y1="175.00" x2="405.70" y2="175.00" stroke="#231f20" stroke-width="2.5"/>
<circle cx="415.92" cy="60.80" r="3.0" fill="#7c7c7c" stroke="#454545" stroke-width="0.8"/>
<circle cx="412.82" cy="69.90" r="3.0" fill="#7c7c7c" stroke="#454545" stroke-width="0.8"/>
<circle cx="419.42" cy="73.90" r="3.0" fill="#7c7c7c" stroke="#454545" stroke-width="0.8"/>
<circle cx="415.92" cy="81.20" r="3.0" fill="#7c7c7c" stroke="#454545" stroke-width="0.8"/>
<line x1="415.92" y1="63.40" x2="415.92" y2="79.00" stroke="#231f20" stroke-width="1.4"/>
<line x1="413.12" y1="63.40" x2="418.72" y2="63.40" stroke="#231f20" stroke-width="1.4"/>
<line x1="413.12" y1="79.00" x2="418.72" y2="79.00" stroke="#231f20" stroke-width="1.4"/>
<line x1="411.02" y1="71.40" x2="420.82" y2="71.40" stroke="#231f20" stroke-width="2.5"/>
<circle cx="433.94" cy="164.00" r="3.0" fill="#7c7c7c" stroke="#454545" stroke-width="0.8"/>
<circle cx="427.34" cy="169.00" r="3.0" fill="#7c7c7c" stroke="#454545" stroke-width="0.8"/>
<circle cx="431.14" cy="170.00" r="3.0" fill="#7c7c7c" stroke="#454545" stroke-width="0.8"/>
<line x1="431.04" y1="165.70" x2="431.04" y2="170.60" stroke="#231f20" stroke-width="1.4"/>
<line x1="428.24" y1="165.70" x2="433.84" y2="165.70" stroke="#231f20" stroke-width="1.4"/>
<line x1="428.24" y1="170.60" x2="433.84" y2="170.60" stroke="#231f20" stroke-width="1.4"/>
<line x1="426.14" y1="168.10" x2="435.94" y2="168.10" stroke="#231f20" stroke-width="2.5"/>
<circle cx="445.66" cy="171.70" r="3.0" fill="#7c7c7c" stroke="#454545" stroke-width="0.8"/>
<circle cx="442.66" cy="176.00" r="3.0" fill="#7c7c7c" stroke="#454545" stroke-width="0.8"/>
<circle cx="449.76" cy="174.40" r="3.0" fill="#7c7c7c" stroke="#454545" stroke-width="0.8"/>
<line x1="441.26" y1="175.00" x2="451.06" y2="175.00" stroke="#231f20" stroke-width="2.5"/>
<circle cx="460.18" cy="171.10" r="3.0" fill="#7c7c7c" stroke="#454545" stroke-width="0.8"/>
<circle cx="457.48" cy="176.60" r="3.0" fill="#7c7c7c" stroke="#454545" stroke-width="0.8"/>
<circle cx="465.18" cy="173.90" r="3.0" fill="#7c7c7c" stroke="#454545" stroke-width="0.8"/>
<line x1="456.38" y1="174.20" x2="466.18" y2="174.20" stroke="#231f20" stroke-width="2.5"/>
<circle cx="475.20" cy="168.40" r="3.0" fill="#7c7c7c" stroke="#454545" stroke-width="0.8"/>
<circle cx="472.50" cy="172.80" r="3.0" fill="#7c7c7c" stroke="#454545" stroke-width="0.8"/>
<circle cx="479.60" cy="172.80" r="3.0" fill="#7c7c7c" stroke="#454545" stroke-width="0.8"/>
<line x1="471.50" y1="172.00" x2="481.30" y2="172.00" stroke="#231f20" stroke-width="2.5"/>
<circle cx="488.42" cy="171.10" r="3.0" fill="#7c7c7c" stroke="#454545" stroke-width="0.8"/>
<circle cx="494.42" cy="169.00" r="3.0" fill="#7c7c7c" stroke="#454545" stroke-width="0.8"/>
<circle cx="491.12" cy="170.60" r="3.0" fill="#7c7c7c" stroke="#454545" stroke-width="0.8"/>
<line x1="486.62" y1="170.90" x2="496.42" y2="170.90" stroke="#231f20" stroke-width="2.5"/>
<circle cx="506.64" cy="162.90" r="3.0" fill="#7c7c7c" stroke="#454545" stroke-width="0.8"/>
<circle cx="503.14" cy="172.80" r="3.0" fill="#7c7c7c" stroke="#454545" stroke-width="0.8"/>
<circle cx="510.34" cy="171.70" r="3.0" fill="#7c7c7c" stroke="#454545" stroke-width="0.8"/>
<line x1="506.64" y1="166.20" x2="506.64" y2="175.00" stroke="#231f20" stroke-width="1.4"/>
<line x1="503.84" y1="166.20" x2="509.44" y2="166.20" stroke="#231f20" stroke-width="1.4"/>
<line x1="503.84" y1="175.00" x2="509.44" y2="175.00" stroke="#231f20" stroke-width="1.4"/>
<line x1="501.74" y1="169.60" x2="511.54" y2="169.60" stroke="#231f20" stroke-width="2.5"/>
<circle cx="520.96" cy="169.80" r="3.0" fill="#7c7c7c" stroke="#454545" stroke-width="0.8"/>
<circle cx="518.56" cy="171.70" r="3.0" fill="#7c7c7c" stroke="#454545" stroke-width="0.8"/>
<circle cx="525.06" cy="171.70" r="3.0" fill="#7c7c7c" stroke="#454545" stroke-width="0.8"/>
<line x1="516.86" y1="172.00" x2="526.66" y2="172.00" stroke="#231f20" stroke-width="2.5"/>
<circle cx="536.88" cy="165.30" r="3.0" fill="#7c7c7c" stroke="#454545" stroke-width="0.8"/>
<circle cx="533.88" cy="174.40" r="3.0" fill="#7c7c7c" stroke="#454545" stroke-width="0.8"/>
<circle cx="540.58" cy="174.40" r="3.0" fill="#7c7c7c" stroke="#454545" stroke-width="0.8"/>
<line x1="536.88" y1="168.60" x2="536.88" y2="175.50" stroke="#231f20" stroke-width="1.4"/>
<line x1="534.08" y1="168.60" x2="539.68" y2="168.60" stroke="#231f20" stroke-width="1.4"/>
<line x1="534.08" y1="175.50" x2="539.68" y2="175.50" stroke="#231f20" stroke-width="1.4"/>
<line x1="531.98" y1="172.10" x2="541.78" y2="172.10" stroke="#231f20" stroke-width="2.5"/>
<circle cx="551.00" cy="172.20" r="3.0" fill="#7c7c7c" stroke="#454545" stroke-width="0.8"/>
<circle cx="548.30" cy="174.40" r="3.0" fill="#7c7c7c" stroke="#454545" stroke-width="0.8"/>
<circle cx="555.40" cy="174.40" r="3.0" fill="#7c7c7c" stroke="#454545" stroke-width="0.8"/>
<line x1="547.10" y1="174.40" x2="556.90" y2="174.40" stroke="#231f20" stroke-width="2.5"/>
<circle cx="565.82" cy="171.10" r="3.0" fill="#7c7c7c" stroke="#454545" stroke-width="0.8"/>
<circle cx="564.22" cy="173.90" r="3.0" fill="#7c7c7c" stroke="#454545" stroke-width="0.8"/>
<circle cx="570.22" cy="171.70" r="3.0" fill="#7c7c7c" stroke="#454545" stroke-width="0.8"/>
<line x1="562.22" y1="173.30" x2="572.02" y2="173.30" stroke="#231f20" stroke-width="2.5"/>
<circle cx="580.64" cy="171.70" r="3.0" fill="#7c7c7c" stroke="#454545" stroke-width="0.8"/>
<circle cx="578.94" cy="174.40" r="3.0" fill="#7c7c7c" stroke="#454545" stroke-width="0.8"/>
<circle cx="585.54" cy="173.30" r="3.0" fill="#7c7c7c" stroke="#454545" stroke-width="0.8"/>
<line x1="577.34" y1="173.90" x2="587.14" y2="173.90" stroke="#231f20" stroke-width="2.5"/>
<circle cx="595.96" cy="171.10" r="3.0" fill="#7c7c7c" stroke="#454545" stroke-width="0.8"/>
<circle cx="593.76" cy="175.50" r="3.0" fill="#7c7c7c" stroke="#454545" stroke-width="0.8"/>
<circle cx="600.36" cy="174.40" r="3.0" fill="#7c7c7c" stroke="#454545" stroke-width="0.8"/>
<line x1="592.46" y1="175.00" x2="602.26" y2="175.00" stroke="#231f20" stroke-width="2.5"/>
<path d="M400.80,164.60 L400.80,44.20 L415.92,44.20 L415.92,52.20" fill="none" stroke="#231f20" stroke-width="2.1" stroke-linejoin="round"/>
<text transform="translate(394.40 43.20) scale(1.0 1.06)" font-size="15.5" text-anchor="start" fill="#333" letter-spacing="1.3">****</text>
<path d="M400.80,21.80 L400.80,13.10 L431.04,13.10 L431.04,21.80" fill="none" stroke="#231f20" stroke-width="2.1" stroke-linejoin="round"/>
<text transform="translate(413.80 12.00) scale(1.0 1.06)" font-size="15.5" text-anchor="start" fill="#333">*</text>
<text transform="translate(343.60 285.00)" font-size="16.5" text-anchor="start" fill="#231f20">e</text>
<line x1="393.00" y1="289.00" x2="393.00" y2="418.80" stroke="#231f20" stroke-width="1.6"/>
<line x1="392.20" y1="417.90" x2="585.60" y2="417.90" stroke="#231f20" stroke-width="1.6"/>
<line x1="388.00" y1="417.90" x2="393.00" y2="417.90" stroke="#231f20" stroke-width="1.6"/>
<text transform="translate(386.40 422.10) scale(1.0 1.06)" font-size="9.5" text-anchor="end" fill="#231f20" font-weight="bold">0</text>
<line x1="388.00" y1="396.52" x2="393.00" y2="396.52" stroke="#231f20" stroke-width="1.6"/>
<text transform="translate(386.40 400.72) scale(1.0 1.06)" font-size="9.5" text-anchor="end" fill="#231f20" font-weight="bold">1000</text>
<line x1="388.00" y1="375.14" x2="393.00" y2="375.14" stroke="#231f20" stroke-width="1.6"/>
<text transform="translate(386.40 379.34) scale(1.0 1.06)" font-size="9.5" text-anchor="end" fill="#231f20" font-weight="bold">2000</text>
<line x1="388.00" y1="353.76" x2="393.00" y2="353.76" stroke="#231f20" stroke-width="1.6"/>
<text transform="translate(386.40 357.96) scale(1.0 1.06)" font-size="9.5" text-anchor="end" fill="#231f20" font-weight="bold">3000</text>
<line x1="388.00" y1="332.38" x2="393.00" y2="332.38" stroke="#231f20" stroke-width="1.6"/>
<text transform="translate(386.40 336.58) scale(1.0 1.06)" font-size="9.5" text-anchor="end" fill="#231f20" font-weight="bold">4000</text>
<line x1="388.00" y1="311.00" x2="393.00" y2="311.00" stroke="#231f20" stroke-width="1.6"/>
<text transform="translate(386.40 315.20) scale(1.0 1.06)" font-size="9.5" text-anchor="end" fill="#231f20" font-weight="bold">5000</text>
<line x1="388.00" y1="289.62" x2="393.00" y2="289.62" stroke="#231f20" stroke-width="1.6"/>
<text transform="translate(386.40 293.82) scale(1.0 1.06)" font-size="9.5" text-anchor="end" fill="#231f20" font-weight="bold">6000</text>
<line x1="393.00" y1="417.90" x2="393.00" y2="423.80" stroke="#231f20" stroke-width="1.6"/>
<text transform="translate(393.00 434.50) scale(1.0 1.06)" font-size="9.5" text-anchor="middle" fill="#231f20" font-weight="bold">0</text>
<line x1="402.60" y1="417.90" x2="402.60" y2="421.20" stroke="#231f20" stroke-width="1.6"/>
<line x1="412.20" y1="417.90" x2="412.20" y2="421.20" stroke="#231f20" stroke-width="1.6"/>
<line x1="421.80" y1="417.90" x2="421.80" y2="421.20" stroke="#231f20" stroke-width="1.6"/>
<line x1="431.40" y1="417.90" x2="431.40" y2="423.80" stroke="#231f20" stroke-width="1.6"/>
<text transform="translate(431.40 434.50) scale(1.0 1.06)" font-size="9.5" text-anchor="middle" fill="#231f20" font-weight="bold">200</text>
<line x1="441.00" y1="417.90" x2="441.00" y2="421.20" stroke="#231f20" stroke-width="1.6"/>
<line x1="450.60" y1="417.90" x2="450.60" y2="421.20" stroke="#231f20" stroke-width="1.6"/>
<line x1="460.20" y1="417.90" x2="460.20" y2="421.20" stroke="#231f20" stroke-width="1.6"/>
<line x1="469.80" y1="417.90" x2="469.80" y2="423.80" stroke="#231f20" stroke-width="1.6"/>
<text transform="translate(469.80 434.50) scale(1.0 1.06)" font-size="9.5" text-anchor="middle" fill="#231f20" font-weight="bold">400</text>
<line x1="479.40" y1="417.90" x2="479.40" y2="421.20" stroke="#231f20" stroke-width="1.6"/>
<line x1="489.00" y1="417.90" x2="489.00" y2="421.20" stroke="#231f20" stroke-width="1.6"/>
<line x1="498.60" y1="417.90" x2="498.60" y2="421.20" stroke="#231f20" stroke-width="1.6"/>
<line x1="508.20" y1="417.90" x2="508.20" y2="423.80" stroke="#231f20" stroke-width="1.6"/>
<text transform="translate(508.20 434.50) scale(1.0 1.06)" font-size="9.5" text-anchor="middle" fill="#231f20" font-weight="bold">600</text>
<line x1="517.80" y1="417.90" x2="517.80" y2="421.20" stroke="#231f20" stroke-width="1.6"/>
<line x1="527.40" y1="417.90" x2="527.40" y2="421.20" stroke="#231f20" stroke-width="1.6"/>
<line x1="537.00" y1="417.90" x2="537.00" y2="421.20" stroke="#231f20" stroke-width="1.6"/>
<line x1="546.60" y1="417.90" x2="546.60" y2="423.80" stroke="#231f20" stroke-width="1.6"/>
<text transform="translate(546.60 434.50) scale(1.0 1.06)" font-size="9.5" text-anchor="middle" fill="#231f20" font-weight="bold">800</text>
<line x1="556.20" y1="417.90" x2="556.20" y2="421.20" stroke="#231f20" stroke-width="1.6"/>
<line x1="565.80" y1="417.90" x2="565.80" y2="421.20" stroke="#231f20" stroke-width="1.6"/>
<line x1="575.40" y1="417.90" x2="575.40" y2="421.20" stroke="#231f20" stroke-width="1.6"/>
<line x1="585.00" y1="417.90" x2="585.00" y2="423.80" stroke="#231f20" stroke-width="1.6"/>
<text transform="translate(585.00 434.50) scale(1.0 1.06)" font-size="9.5" text-anchor="middle" fill="#231f20" font-weight="bold">1000</text>
<text transform="translate(491.20 448.40) scale(1.0 1.06)" font-size="9.6" text-anchor="middle" fill="#231f20" font-weight="bold">[protein] (nM)</text>
<text transform="translate(361.00 348.60) rotate(-90) scale(1.0 1.1)" font-size="9.4" text-anchor="middle" fill="#231f20" font-weight="bold">RFU</text>
<path d="M393.00,409.35 L396.32,408.49 L400.49,408.28 L404.23,408.07 L409.90,408.07 L418.34,408.92 L431.02,407.85 L449.83,407.42 L478.25,407.32 L521.06,406.57 L585.00,407.32" fill="none" stroke="#cf6f84" stroke-width="1.0" stroke-linejoin="round" stroke-dasharray="2 1.5"/>
<path d="M393.00,403.68 L396.32,402.40 L400.49,401.69 L404.23,406.57 L409.90,406.57 L418.34,405.18 L431.02,400.62 L449.83,395.99 L478.25,384.55 L521.06,365.09 L585.00,320.62" fill="none" stroke="#125e5c" stroke-width="1.0" stroke-linejoin="round" stroke-dasharray="2 1.5"/>
<path d="M393.00,408.28 L396.32,408.39 L400.49,408.39 L404.23,407.96 L409.90,408.17 L418.34,408.49 L431.02,406.78 L449.83,393.31 L478.25,348.41 L521.06,303.73 L585.00,300.95" fill="none" stroke="#e8785a" stroke-width="1.0" stroke-linejoin="round" stroke-dasharray="2 1.5"/>
<rect x="390.90" y="405.97" width="4.2" height="4.2" fill="none" stroke="#cf6f84" stroke-width="1.2"/>
<rect x="390.90" y="410.88" width="4.2" height="4.2" fill="none" stroke="#cf6f84" stroke-width="1.2"/>
<rect x="394.22" y="406.39" width="4.2" height="4.2" fill="none" stroke="#cf6f84" stroke-width="1.2"/>
<rect x="398.39" y="406.18" width="4.2" height="4.2" fill="none" stroke="#cf6f84" stroke-width="1.2"/>
<rect x="402.13" y="405.97" width="4.2" height="4.2" fill="none" stroke="#cf6f84" stroke-width="1.2"/>
<rect x="407.80" y="405.97" width="4.2" height="4.2" fill="none" stroke="#cf6f84" stroke-width="1.2"/>
<rect x="416.24" y="405.75" width="4.2" height="4.2" fill="none" stroke="#cf6f84" stroke-width="1.2"/>
<rect x="416.24" y="408.96" width="4.2" height="4.2" fill="none" stroke="#cf6f84" stroke-width="1.2"/>
<rect x="428.92" y="405.54" width="4.2" height="4.2" fill="none" stroke="#cf6f84" stroke-width="1.2"/>
<rect x="428.92" y="407.46" width="4.2" height="4.2" fill="none" stroke="#cf6f84" stroke-width="1.2"/>
<rect x="447.73" y="405.11" width="4.2" height="4.2" fill="none" stroke="#cf6f84" stroke-width="1.2"/>
<rect x="447.73" y="405.54" width="4.2" height="4.2" fill="none" stroke="#cf6f84" stroke-width="1.2"/>
<rect x="476.15" y="405.11" width="4.2" height="4.2" fill="none" stroke="#cf6f84" stroke-width="1.2"/>
<rect x="476.15" y="405.32" width="4.2" height="4.2" fill="none" stroke="#cf6f84" stroke-width="1.2"/>
<rect x="518.96" y="403.83" width="4.2" height="4.2" fill="none" stroke="#cf6f84" stroke-width="1.2"/>
<rect x="518.96" y="404.68" width="4.2" height="4.2" fill="none" stroke="#cf6f84" stroke-width="1.2"/>
<rect x="582.90" y="405.11" width="4.2" height="4.2" fill="none" stroke="#cf6f84" stroke-width="1.2"/>
<rect x="582.90" y="405.32" width="4.2" height="4.2" fill="none" stroke="#cf6f84" stroke-width="1.2"/>
<polygon points="393.00,400.25 395.70,404.95 390.30,404.95" fill="#125e5c" stroke="#125e5c" stroke-width="1.1" stroke-linejoin="round"/>
<polygon points="393.00,401.32 395.70,406.02 390.30,406.02" fill="#125e5c" stroke="#125e5c" stroke-width="1.1" stroke-linejoin="round"/>
<polygon points="396.32,399.50 399.02,404.20 393.62,404.20" fill="#125e5c" stroke="#125e5c" stroke-width="1.1" stroke-linejoin="round"/>
<polygon points="400.49,398.79 403.19,403.49 397.79,403.49" fill="none" stroke="#125e5c" stroke-width="1.1" stroke-linejoin="round"/>
<polygon points="404.23,403.67 406.93,408.37 401.53,408.37" fill="#125e5c" stroke="#125e5c" stroke-width="1.1" stroke-linejoin="round"/>
<polygon points="409.90,403.67 412.60,408.37 407.20,408.37" fill="#125e5c" stroke="#125e5c" stroke-width="1.1" stroke-linejoin="round"/>
<polygon points="418.34,402.28 421.04,406.98 415.64,406.98" fill="#125e5c" stroke="#125e5c" stroke-width="1.1" stroke-linejoin="round"/>
<polygon points="431.02,396.70 433.72,401.40 428.32,401.40" fill="#125e5c" stroke="#125e5c" stroke-width="1.1" stroke-linejoin="round"/>
<polygon points="431.02,398.75 433.72,403.45 428.32,403.45" fill="#125e5c" stroke="#125e5c" stroke-width="1.1" stroke-linejoin="round"/>
<polygon points="449.83,393.62 452.53,398.32 447.13,398.32" fill="#125e5c" stroke="#125e5c" stroke-width="1.1" stroke-linejoin="round"/>
<polygon points="449.83,392.55 452.53,397.25 447.13,397.25" fill="#125e5c" stroke="#125e5c" stroke-width="1.1" stroke-linejoin="round"/>
<polygon points="478.25,378.23 480.95,382.93 475.55,382.93" fill="none" stroke="#125e5c" stroke-width="1.1" stroke-linejoin="round"/>
<polygon points="478.25,384.00 480.95,388.70 475.55,388.70" fill="#125e5c" stroke="#125e5c" stroke-width="1.1" stroke-linejoin="round"/>
<polygon points="521.06,360.05 523.76,364.75 518.36,364.75" fill="#125e5c" stroke="#125e5c" stroke-width="1.1" stroke-linejoin="round"/>
<polygon points="521.06,363.69 523.76,368.39 518.36,368.39" fill="#125e5c" stroke="#125e5c" stroke-width="1.1" stroke-linejoin="round"/>
<polygon points="585.00,316.22 587.70,320.92 582.30,320.92" fill="#125e5c" stroke="#125e5c" stroke-width="1.1" stroke-linejoin="round"/>
<polygon points="585.00,318.79 587.70,323.49 582.30,323.49" fill="#125e5c" stroke="#125e5c" stroke-width="1.1" stroke-linejoin="round"/>
<circle cx="393.00" cy="407.74" r="2.2" fill="none" stroke="#e8785a" stroke-width="1.2"/>
<circle cx="393.00" cy="408.71" r="2.2" fill="none" stroke="#e8785a" stroke-width="1.2"/>
<circle cx="396.32" cy="408.07" r="2.2" fill="none" stroke="#e8785a" stroke-width="1.2"/>
<circle cx="396.32" cy="408.71" r="2.2" fill="none" stroke="#e8785a" stroke-width="1.2"/>
<circle cx="400.49" cy="408.39" r="2.2" fill="none" stroke="#e8785a" stroke-width="1.2"/>
<circle cx="404.23" cy="407.96" r="2.2" fill="none" stroke="#e8785a" stroke-width="1.2"/>
<circle cx="409.90" cy="408.17" r="2.2" fill="none" stroke="#e8785a" stroke-width="1.2"/>
<circle cx="418.34" cy="408.17" r="2.2" fill="none" stroke="#e8785a" stroke-width="1.2"/>
<circle cx="418.34" cy="408.81" r="2.2" fill="none" stroke="#e8785a" stroke-width="1.2"/>
<circle cx="431.02" cy="406.35" r="2.2" fill="none" stroke="#e8785a" stroke-width="1.2"/>
<circle cx="431.02" cy="407.21" r="2.2" fill="none" stroke="#e8785a" stroke-width="1.2"/>
<circle cx="449.83" cy="392.24" r="2.2" fill="none" stroke="#e8785a" stroke-width="1.2"/>
<circle cx="449.83" cy="394.38" r="2.2" fill="none" stroke="#e8785a" stroke-width="1.2"/>
<circle cx="478.25" cy="346.92" r="2.2" fill="none" stroke="#e8785a" stroke-width="1.2"/>
<circle cx="478.25" cy="350.13" r="2.2" fill="none" stroke="#e8785a" stroke-width="1.2"/>
<circle cx="521.06" cy="296.03" r="2.2" fill="none" stroke="#e8785a" stroke-width="1.2"/>
<circle cx="521.06" cy="306.72" r="2.2" fill="none" stroke="#e8785a" stroke-width="1.2"/>
<circle cx="521.06" cy="309.08" r="2.2" fill="none" stroke="#e8785a" stroke-width="1.2"/>
<circle cx="585.00" cy="298.60" r="2.2" fill="none" stroke="#e8785a" stroke-width="1.2"/>
<circle cx="585.00" cy="301.91" r="2.2" fill="none" stroke="#e8785a" stroke-width="1.2"/>
<line x1="581.00" y1="349.30" x2="594.80" y2="349.30" stroke="#e8785a" stroke-width="1.0" stroke-dasharray="2 1.5"/>
<circle cx="587.60" cy="349.30" r="2.2" fill="none" stroke="#e8785a" stroke-width="1.2"/>
<text transform="translate(600.00 352.60) scale(1.0 1.06)" font-size="9.2" text-anchor="start" fill="#333">PARP15 ART WT</text>
<line x1="581.00" y1="366.50" x2="594.80" y2="366.50" stroke="#cf6f84" stroke-width="1.0" stroke-dasharray="2 1.5"/>
<rect x="585.50" y="364.40" width="4.2" height="4.2" fill="none" stroke="#cf6f84" stroke-width="1.2"/>
<text transform="translate(600.00 369.80) scale(1.0 1.06)" font-size="9.2" text-anchor="start" fill="#333">PARP15 ART D665R</text>
<line x1="581.00" y1="383.70" x2="594.80" y2="383.70" stroke="#125e5c" stroke-width="1.0" stroke-dasharray="2 1.5"/>
<polygon points="587.60,381.10 590.30,385.80 584.90,385.80" fill="none" stroke="#125e5c" stroke-width="1.1" stroke-linejoin="round"/>
<text transform="translate(600.00 387.00) scale(1.0 1.06)" font-size="9.2" text-anchor="start" fill="#333">PARP10 ART WT</text>
<text transform="translate(347.40 466.60)" font-size="16.5" text-anchor="start" fill="#231f20">f</text>
<line x1="395.00" y1="468.30" x2="395.00" y2="598.90" stroke="#231f20" stroke-width="1.6"/>
<line x1="394.20" y1="598.00" x2="589.40" y2="598.00" stroke="#231f20" stroke-width="1.6"/>
<line x1="390.00" y1="598.00" x2="395.00" y2="598.00" stroke="#231f20" stroke-width="1.6"/>
<text transform="translate(388.20 602.60) scale(1.0 1.06)" font-size="9.5" text-anchor="end" fill="#231f20" font-weight="bold">0</text>
<line x1="392.40" y1="587.25" x2="395.00" y2="587.25" stroke="#231f20" stroke-width="1.6"/>
<line x1="390.00" y1="576.50" x2="395.00" y2="576.50" stroke="#231f20" stroke-width="1.6"/>
<text transform="translate(388.20 581.10) scale(1.0 1.06)" font-size="9.5" text-anchor="end" fill="#231f20" font-weight="bold">1000</text>
<line x1="392.40" y1="565.75" x2="395.00" y2="565.75" stroke="#231f20" stroke-width="1.6"/>
<line x1="390.00" y1="555.00" x2="395.00" y2="555.00" stroke="#231f20" stroke-width="1.6"/>
<text transform="translate(388.20 559.60) scale(1.0 1.06)" font-size="9.5" text-anchor="end" fill="#231f20" font-weight="bold">2000</text>
<line x1="392.40" y1="544.25" x2="395.00" y2="544.25" stroke="#231f20" stroke-width="1.6"/>
<line x1="390.00" y1="533.50" x2="395.00" y2="533.50" stroke="#231f20" stroke-width="1.6"/>
<text transform="translate(388.20 538.10) scale(1.0 1.06)" font-size="9.5" text-anchor="end" fill="#231f20" font-weight="bold">3000</text>
<line x1="392.40" y1="522.75" x2="395.00" y2="522.75" stroke="#231f20" stroke-width="1.6"/>
<line x1="390.00" y1="512.00" x2="395.00" y2="512.00" stroke="#231f20" stroke-width="1.6"/>
<text transform="translate(388.20 516.60) scale(1.0 1.06)" font-size="9.5" text-anchor="end" fill="#231f20" font-weight="bold">4000</text>
<line x1="392.40" y1="501.25" x2="395.00" y2="501.25" stroke="#231f20" stroke-width="1.6"/>
<line x1="390.00" y1="490.50" x2="395.00" y2="490.50" stroke="#231f20" stroke-width="1.6"/>
<text transform="translate(388.20 495.10) scale(1.0 1.06)" font-size="9.5" text-anchor="end" fill="#231f20" font-weight="bold">5000</text>
<line x1="392.40" y1="479.75" x2="395.00" y2="479.75" stroke="#231f20" stroke-width="1.6"/>
<line x1="390.00" y1="469.00" x2="395.00" y2="469.00" stroke="#231f20" stroke-width="1.6"/>
<text transform="translate(388.20 473.60) scale(1.0 1.06)" font-size="9.5" text-anchor="end" fill="#231f20" font-weight="bold">6000</text>
<line x1="395.00" y1="598.00" x2="395.00" y2="601.40" stroke="#231f20" stroke-width="1.6"/>
<line x1="403.80" y1="598.00" x2="403.80" y2="601.40" stroke="#231f20" stroke-width="1.6"/>
<line x1="412.60" y1="598.00" x2="412.60" y2="603.80" stroke="#231f20" stroke-width="1.6"/>
<text transform="translate(412.60 613.60) scale(1.0 1.06)" font-size="9.5" text-anchor="middle" fill="#231f20" font-weight="bold">0</text>
<line x1="421.40" y1="598.00" x2="421.40" y2="601.40" stroke="#231f20" stroke-width="1.6"/>
<line x1="430.20" y1="598.00" x2="430.20" y2="601.40" stroke="#231f20" stroke-width="1.6"/>
<line x1="439.00" y1="598.00" x2="439.00" y2="601.40" stroke="#231f20" stroke-width="1.6"/>
<line x1="447.80" y1="598.00" x2="447.80" y2="601.40" stroke="#231f20" stroke-width="1.6"/>
<line x1="456.60" y1="598.00" x2="456.60" y2="603.80" stroke="#231f20" stroke-width="1.6"/>
<text transform="translate(456.60 613.60) scale(1.0 1.06)" font-size="9.5" text-anchor="middle" fill="#231f20" font-weight="bold">500</text>
<line x1="465.40" y1="598.00" x2="465.40" y2="601.40" stroke="#231f20" stroke-width="1.6"/>
<line x1="474.20" y1="598.00" x2="474.20" y2="601.40" stroke="#231f20" stroke-width="1.6"/>
<line x1="483.00" y1="598.00" x2="483.00" y2="601.40" stroke="#231f20" stroke-width="1.6"/>
<line x1="491.80" y1="598.00" x2="491.80" y2="601.40" stroke="#231f20" stroke-width="1.6"/>
<line x1="500.60" y1="598.00" x2="500.60" y2="603.80" stroke="#231f20" stroke-width="1.6"/>
<text transform="translate(500.60 613.60) scale(1.0 1.06)" font-size="9.5" text-anchor="middle" fill="#231f20" font-weight="bold">1000</text>
<line x1="509.40" y1="598.00" x2="509.40" y2="601.40" stroke="#231f20" stroke-width="1.6"/>
<line x1="518.20" y1="598.00" x2="518.20" y2="601.40" stroke="#231f20" stroke-width="1.6"/>
<line x1="527.00" y1="598.00" x2="527.00" y2="601.40" stroke="#231f20" stroke-width="1.6"/>
<line x1="535.80" y1="598.00" x2="535.80" y2="601.40" stroke="#231f20" stroke-width="1.6"/>
<line x1="544.60" y1="598.00" x2="544.60" y2="603.80" stroke="#231f20" stroke-width="1.6"/>
<text transform="translate(544.60 613.60) scale(1.0 1.06)" font-size="9.5" text-anchor="middle" fill="#231f20" font-weight="bold">1500</text>
<line x1="553.40" y1="598.00" x2="553.40" y2="601.40" stroke="#231f20" stroke-width="1.6"/>
<line x1="562.20" y1="598.00" x2="562.20" y2="601.40" stroke="#231f20" stroke-width="1.6"/>
<line x1="571.00" y1="598.00" x2="571.00" y2="601.40" stroke="#231f20" stroke-width="1.6"/>
<line x1="579.80" y1="598.00" x2="579.80" y2="601.40" stroke="#231f20" stroke-width="1.6"/>
<line x1="588.60" y1="598.00" x2="588.60" y2="603.80" stroke="#231f20" stroke-width="1.6"/>
<text transform="translate(588.60 613.60) scale(1.0 1.06)" font-size="9.5" text-anchor="middle" fill="#231f20" font-weight="bold">2000</text>
<line x1="412.60" y1="469.50" x2="412.60" y2="597.00" stroke="#231f20" stroke-width="1.3" stroke-dasharray="1.2 2.7"/>
<text transform="translate(494.50 628.20) scale(1.0 1.06)" font-size="9.7" text-anchor="middle" fill="#231f20" font-weight="bold">[H559Y] (nM)</text>
<text transform="translate(360.80 532.00) rotate(-90) scale(1.0 1.1)" font-size="9.4" text-anchor="middle" fill="#231f20" font-weight="bold">RFU</text>
<line x1="423.60" y1="580.37" x2="423.60" y2="582.95" stroke="#3fa7a8" stroke-width="1.1"/>
<line x1="421.30" y1="580.37" x2="425.90" y2="580.37" stroke="#3fa7a8" stroke-width="1.1"/>
<line x1="421.30" y1="582.95" x2="425.90" y2="582.95" stroke="#3fa7a8" stroke-width="1.1"/>
<circle cx="412.60" cy="585.10" r="2.3" fill="#fff" fill-opacity="0.6" stroke="#3fa7a8" stroke-width="1.4"/>
<circle cx="415.35" cy="584.24" r="2.3" fill="#fff" fill-opacity="0.6" stroke="#3fa7a8" stroke-width="1.4"/>
<circle cx="418.10" cy="584.02" r="2.3" fill="#fff" fill-opacity="0.6" stroke="#3fa7a8" stroke-width="1.4"/>
<circle cx="423.60" cy="581.66" r="2.3" fill="#fff" fill-opacity="0.6" stroke="#3fa7a8" stroke-width="1.4"/>
<circle cx="434.60" cy="584.24" r="2.3" fill="#fff" fill-opacity="0.6" stroke="#3fa7a8" stroke-width="1.4"/>
<circle cx="456.60" cy="584.24" r="2.3" fill="#fff" fill-opacity="0.6" stroke="#3fa7a8" stroke-width="1.4"/>
<circle cx="500.60" cy="584.24" r="2.3" fill="#fff" fill-opacity="0.6" stroke="#3fa7a8" stroke-width="1.4"/>
<circle cx="588.60" cy="578.65" r="2.3" fill="#fff" fill-opacity="0.6" stroke="#3fa7a8" stroke-width="1.4"/>
<line x1="500.60" y1="567.47" x2="500.60" y2="582.95" stroke="#a77dbb" stroke-width="1.1"/>
<line x1="498.30" y1="567.47" x2="502.90" y2="567.47" stroke="#a77dbb" stroke-width="1.1"/>
<line x1="498.30" y1="582.95" x2="502.90" y2="582.95" stroke="#a77dbb" stroke-width="1.1"/>
<line x1="588.60" y1="563.60" x2="588.60" y2="578.65" stroke="#a77dbb" stroke-width="1.1"/>
<line x1="586.30" y1="563.60" x2="590.90" y2="563.60" stroke="#a77dbb" stroke-width="1.1"/>
<line x1="586.30" y1="578.65" x2="590.90" y2="578.65" stroke="#a77dbb" stroke-width="1.1"/>
<circle cx="412.60" cy="585.10" r="2.3" fill="#fff" fill-opacity="0.6" stroke="#a77dbb" stroke-width="1.4"/>
<circle cx="415.35" cy="584.67" r="2.3" fill="#fff" fill-opacity="0.6" stroke="#a77dbb" stroke-width="1.4"/>
<circle cx="418.10" cy="583.81" r="2.3" fill="#fff" fill-opacity="0.6" stroke="#a77dbb" stroke-width="1.4"/>
<circle cx="423.60" cy="582.52" r="2.3" fill="#fff" fill-opacity="0.6" stroke="#a77dbb" stroke-width="1.4"/>
<circle cx="434.60" cy="582.95" r="2.3" fill="#fff" fill-opacity="0.6" stroke="#a77dbb" stroke-width="1.4"/>
<circle cx="456.60" cy="581.23" r="2.3" fill="#fff" fill-opacity="0.6" stroke="#a77dbb" stroke-width="1.4"/>
<circle cx="500.60" cy="575.21" r="2.3" fill="#fff" fill-opacity="0.6" stroke="#a77dbb" stroke-width="1.4"/>
<circle cx="588.60" cy="571.34" r="2.3" fill="#fff" fill-opacity="0.6" stroke="#a77dbb" stroke-width="1.4"/>
<circle cx="412.60" cy="585.96" r="2.3" fill="#fff" fill-opacity="0.6" stroke="#7b7b7b" stroke-width="1.4"/>
<circle cx="415.35" cy="585.10" r="2.3" fill="#fff" fill-opacity="0.6" stroke="#7b7b7b" stroke-width="1.4"/>
<circle cx="418.10" cy="584.67" r="2.3" fill="#fff" fill-opacity="0.6" stroke="#7b7b7b" stroke-width="1.4"/>
<circle cx="423.60" cy="584.24" r="2.3" fill="#fff" fill-opacity="0.6" stroke="#7b7b7b" stroke-width="1.4"/>
<circle cx="434.60" cy="584.67" r="2.3" fill="#fff" fill-opacity="0.6" stroke="#7b7b7b" stroke-width="1.4"/>
<circle cx="456.60" cy="584.24" r="2.3" fill="#fff" fill-opacity="0.6" stroke="#7b7b7b" stroke-width="1.4"/>
<circle cx="500.60" cy="582.95" r="2.3" fill="#fff" fill-opacity="0.6" stroke="#7b7b7b" stroke-width="1.4"/>
<circle cx="588.60" cy="577.79" r="2.3" fill="#fff" fill-opacity="0.6" stroke="#7b7b7b" stroke-width="1.4"/>
<line x1="415.35" y1="538.23" x2="415.35" y2="550.70" stroke="#e0674e" stroke-width="1.1"/>
<line x1="413.05" y1="538.23" x2="417.65" y2="538.23" stroke="#e0674e" stroke-width="1.1"/>
<line x1="413.05" y1="550.70" x2="417.65" y2="550.70" stroke="#e0674e" stroke-width="1.1"/>
<line x1="434.60" y1="496.31" x2="434.60" y2="519.52" stroke="#e0674e" stroke-width="1.1"/>
<line x1="432.30" y1="496.31" x2="436.90" y2="496.31" stroke="#e0674e" stroke-width="1.1"/>
<line x1="432.30" y1="519.52" x2="436.90" y2="519.52" stroke="#e0674e" stroke-width="1.1"/>
<line x1="456.60" y1="491.57" x2="456.60" y2="505.55" stroke="#e0674e" stroke-width="1.1"/>
<line x1="454.30" y1="491.57" x2="458.90" y2="491.57" stroke="#e0674e" stroke-width="1.1"/>
<line x1="454.30" y1="505.55" x2="458.90" y2="505.55" stroke="#e0674e" stroke-width="1.1"/>
<line x1="500.60" y1="487.27" x2="500.60" y2="507.70" stroke="#e0674e" stroke-width="1.1"/>
<line x1="498.30" y1="487.27" x2="502.90" y2="487.27" stroke="#e0674e" stroke-width="1.1"/>
<line x1="498.30" y1="507.70" x2="502.90" y2="507.70" stroke="#e0674e" stroke-width="1.1"/>
<line x1="588.60" y1="515.23" x2="588.60" y2="525.98" stroke="#e0674e" stroke-width="1.1"/>
<line x1="586.30" y1="515.23" x2="590.90" y2="515.23" stroke="#e0674e" stroke-width="1.1"/>
<line x1="586.30" y1="525.98" x2="590.90" y2="525.98" stroke="#e0674e" stroke-width="1.1"/>
<circle cx="412.60" cy="552.42" r="2.3" fill="#fff" fill-opacity="0.6" stroke="#e0674e" stroke-width="1.4"/>
<circle cx="415.35" cy="544.25" r="2.3" fill="#fff" fill-opacity="0.6" stroke="#e0674e" stroke-width="1.4"/>
<circle cx="418.10" cy="542.10" r="2.3" fill="#fff" fill-opacity="0.6" stroke="#e0674e" stroke-width="1.4"/>
<circle cx="423.60" cy="528.12" r="2.3" fill="#fff" fill-opacity="0.6" stroke="#e0674e" stroke-width="1.4"/>
<circle cx="434.60" cy="507.92" r="2.3" fill="#fff" fill-opacity="0.6" stroke="#e0674e" stroke-width="1.4"/>
<circle cx="456.60" cy="498.67" r="2.3" fill="#fff" fill-opacity="0.6" stroke="#e0674e" stroke-width="1.4"/>
<circle cx="500.60" cy="497.38" r="2.3" fill="#fff" fill-opacity="0.6" stroke="#e0674e" stroke-width="1.4"/>
<circle cx="588.60" cy="520.60" r="2.3" fill="#fff" fill-opacity="0.6" stroke="#e0674e" stroke-width="1.4"/>
<circle cx="625" cy="506.00" r="2.5" fill="none" stroke="#7b7b7b" stroke-width="1.3"/>
<text transform="translate(632.40 509.30) scale(1.0 1.06)" font-size="9.2" text-anchor="start" fill="#333">ctrl</text>
<circle cx="625" cy="523.20" r="2.5" fill="none" stroke="#e0674e" stroke-width="1.3"/>
<text transform="translate(632.40 526.50) scale(1.0 1.06)" font-size="9.2" text-anchor="start" fill="#333">WT</text>
<circle cx="625" cy="540.40" r="2.5" fill="none" stroke="#a77dbb" stroke-width="1.3"/>
<text transform="translate(632.40 543.70) scale(1.0 1.06)" font-size="9.2" text-anchor="start" fill="#333">R576A</text>
<circle cx="625" cy="557.60" r="2.5" fill="none" stroke="#3fa7a8" stroke-width="1.3"/>
<text transform="translate(632.40 560.90) scale(1.0 1.06)" font-size="9.2" text-anchor="start" fill="#333">D665A</text>
<text transform="translate(343.60 649.40)" font-size="16.5" text-anchor="start" fill="#231f20">g</text>
<line x1="407.80" y1="653.60" x2="407.80" y2="795.20" stroke="#231f20" stroke-width="1.5"/>
<line x1="407.00" y1="794.40" x2="583.60" y2="794.40" stroke="#231f20" stroke-width="1.5"/>
<line x1="402.00" y1="794.40" x2="407.80" y2="794.40" stroke="#231f20" stroke-width="1.5"/>
<text transform="translate(399.40 797.40) scale(1.0 1.06)" font-size="9.5" text-anchor="end" fill="#231f20" font-weight="bold">0</text>
<line x1="402.00" y1="766.40" x2="407.80" y2="766.40" stroke="#231f20" stroke-width="1.5"/>
<text transform="translate(399.40 769.40) scale(1.0 1.06)" font-size="9.5" text-anchor="end" fill="#231f20" font-weight="bold">20</text>
<line x1="402.00" y1="738.40" x2="407.80" y2="738.40" stroke="#231f20" stroke-width="1.5"/>
<text transform="translate(399.40 741.40) scale(1.0 1.06)" font-size="9.5" text-anchor="end" fill="#231f20" font-weight="bold">40</text>
<line x1="402.00" y1="710.40" x2="407.80" y2="710.40" stroke="#231f20" stroke-width="1.5"/>
<text transform="translate(399.40 713.40) scale(1.0 1.06)" font-size="9.5" text-anchor="end" fill="#231f20" font-weight="bold">60</text>
<line x1="402.00" y1="682.40" x2="407.80" y2="682.40" stroke="#231f20" stroke-width="1.5"/>
<text transform="translate(399.40 685.40) scale(1.0 1.06)" font-size="9.5" text-anchor="end" fill="#231f20" font-weight="bold">80</text>
<line x1="402.00" y1="654.40" x2="407.80" y2="654.40" stroke="#231f20" stroke-width="1.5"/>
<text transform="translate(399.40 657.40) scale(1.0 1.06)" font-size="9.5" text-anchor="end" fill="#231f20" font-weight="bold">100</text>
<line x1="407.80" y1="794.40" x2="407.80" y2="799.60" stroke="#231f20" stroke-width="1.5"/>
<text transform="translate(407.80 812.20) scale(1.0 1.06)" font-size="9.5" text-anchor="middle" fill="#231f20" font-weight="bold">0</text>
<line x1="442.90" y1="794.40" x2="442.90" y2="799.60" stroke="#231f20" stroke-width="1.5"/>
<text transform="translate(442.90 812.20) scale(1.0 1.06)" font-size="9.5" text-anchor="middle" fill="#231f20" font-weight="bold">1</text>
<line x1="478.00" y1="794.40" x2="478.00" y2="799.60" stroke="#231f20" stroke-width="1.5"/>
<text transform="translate(478.00 812.20) scale(1.0 1.06)" font-size="9.5" text-anchor="middle" fill="#231f20" font-weight="bold">2</text>
<line x1="513.10" y1="794.40" x2="513.10" y2="799.60" stroke="#231f20" stroke-width="1.5"/>
<text transform="translate(513.10 812.20) scale(1.0 1.06)" font-size="9.5" text-anchor="middle" fill="#231f20" font-weight="bold">3</text>
<line x1="548.20" y1="794.40" x2="548.20" y2="799.60" stroke="#231f20" stroke-width="1.5"/>
<text transform="translate(548.20 812.20) scale(1.0 1.06)" font-size="9.5" text-anchor="middle" fill="#231f20" font-weight="bold">4</text>
<line x1="583.30" y1="794.40" x2="583.30" y2="799.60" stroke="#231f20" stroke-width="1.5"/>
<text transform="translate(583.30 812.20) scale(1.0 1.06)" font-size="9.5" text-anchor="middle" fill="#231f20" font-weight="bold">5</text>
<text transform="translate(426.8 826.3) scale(1 1.06)" font-size="9.5" font-weight="bold" fill="#231f20">Sedimentation Coefficient x 10<tspan font-size="6" dy="-3.6">-13</tspan></text>
<text transform="translate(379.80 724.40) rotate(-90) scale(1.0 1.06)" font-size="9.5" text-anchor="middle" fill="#231f20" font-weight="bold">Boundary Fraction (%)</text>
<path d="M455.19,786.70 L463.96,784.32 L472.11,782.64 L481.58,781.10 L489.73,779.56 L495.99,778.58 L502.07,777.32 L507.13,775.78 L511.34,774.24 L514.26,772.70 L516.27,771.30 L518.48,769.44 L520.36,767.57 L522.11,765.71 L523.72,763.85 L525.19,761.99 L526.51,760.12 L527.69,758.26 L528.75,756.40 L529.73,754.54 L530.64,752.67 L531.45,750.81 L532.15,748.95 L532.76,747.08 L533.31,745.22 L533.81,743.36 L534.26,741.50 L534.64,739.63 L534.97,737.77 L535.24,735.91 L535.49,734.05 L535.71,732.18 L535.92,730.32 L536.13,728.46 L536.33,726.59 L536.54,724.73 L536.75,722.87 L536.95,721.01 L537.14,719.14 L537.32,717.28 L537.49,715.42 L537.64,713.56 L537.78,711.69 L537.90,709.83 L538.02,707.97 L538.13,706.11 L538.24,704.24 L538.35,702.38 L538.48,700.52 L538.63,698.65 L538.78,696.79 L538.92,694.93 L539.02,693.07 L539.07,691.20 L539.07,689.34 L539.07,687.48 L539.07,685.62 L539.07,683.75 L539.07,681.89 L539.07,680.03 L539.05,678.16 L538.95,676.30 L538.84,674.44 L538.75,672.58 L538.73,670.71 L538.80,668.85 L538.95,666.99 L539.17,665.13 L539.45,663.26 L539.78,661.40" fill="none" stroke="#ef9a85" stroke-width="1.2" stroke-linejoin="round"/>
<circle cx="455.19" cy="786.70" r="1.5" fill="#e2673f"/>
<circle cx="463.96" cy="784.32" r="1.5" fill="#e2673f"/>
<circle cx="472.11" cy="782.64" r="1.5" fill="#e2673f"/>
<circle cx="481.58" cy="781.10" r="1.5" fill="#e2673f"/>
<circle cx="489.73" cy="779.56" r="1.5" fill="#e2673f"/>
<circle cx="495.99" cy="778.58" r="1.5" fill="#e2673f"/>
<circle cx="502.07" cy="777.32" r="1.5" fill="#e2673f"/>
<circle cx="507.13" cy="775.78" r="1.5" fill="#e2673f"/>
<circle cx="511.34" cy="774.24" r="1.5" fill="#e2673f"/>
<circle cx="514.26" cy="772.70" r="1.5" fill="#e2673f"/>
<circle cx="516.27" cy="771.30" r="1.5" fill="#e2673f"/>
<circle cx="518.48" cy="769.44" r="1.5" fill="#e2673f"/>
<circle cx="520.36" cy="767.57" r="1.5" fill="#e2673f"/>
<circle cx="522.11" cy="765.71" r="1.5" fill="#e2673f"/>
<circle cx="523.72" cy="763.85" r="1.5" fill="#e2673f"/>
<circle cx="525.19" cy="761.99" r="1.5" fill="#e2673f"/>
<circle cx="526.51" cy="760.12" r="1.5" fill="#e2673f"/>
<circle cx="527.69" cy="758.26" r="1.5" fill="#e2673f"/>
<circle cx="528.75" cy="756.40" r="1.5" fill="#e2673f"/>
<circle cx="529.73" cy="754.54" r="1.5" fill="#e2673f"/>
<circle cx="530.64" cy="752.67" r="1.5" fill="#e2673f"/>
<circle cx="531.45" cy="750.81" r="1.5" fill="#e2673f"/>
<circle cx="532.15" cy="748.95" r="1.5" fill="#e2673f"/>
<circle cx="532.76" cy="747.08" r="1.5" fill="#e2673f"/>
<circle cx="533.31" cy="745.22" r="1.5" fill="#e2673f"/>
<circle cx="533.81" cy="743.36" r="1.5" fill="#e2673f"/>
<circle cx="534.26" cy="741.50" r="1.5" fill="#e2673f"/>
<circle cx="534.64" cy="739.63" r="1.5" fill="#e2673f"/>
<circle cx="534.97" cy="737.77" r="1.5" fill="#e2673f"/>
<circle cx="535.24" cy="735.91" r="1.5" fill="#e2673f"/>
<circle cx="535.49" cy="734.05" r="1.5" fill="#e2673f"/>
<circle cx="535.71" cy="732.18" r="1.5" fill="#e2673f"/>
<circle cx="535.92" cy="730.32" r="1.5" fill="#e2673f"/>
<circle cx="536.13" cy="728.46" r="1.5" fill="#e2673f"/>
<circle cx="536.33" cy="726.59" r="1.5" fill="#e2673f"/>
<circle cx="536.54" cy="724.73" r="1.5" fill="#e2673f"/>
<circle cx="536.75" cy="722.87" r="1.5" fill="#e2673f"/>
<circle cx="536.95" cy="721.01" r="1.5" fill="#e2673f"/>
<circle cx="537.14" cy="719.14" r="1.5" fill="#e2673f"/>
<circle cx="537.32" cy="717.28" r="1.5" fill="#e2673f"/>
<circle cx="537.49" cy="715.42" r="1.5" fill="#e2673f"/>
<circle cx="537.64" cy="713.56" r="1.5" fill="#e2673f"/>
<circle cx="537.78" cy="711.69" r="1.5" fill="#e2673f"/>
<circle cx="537.90" cy="709.83" r="1.5" fill="#e2673f"/>
<circle cx="538.02" cy="707.97" r="1.5" fill="#e2673f"/>
<circle cx="538.13" cy="706.11" r="1.5" fill="#e2673f"/>
<circle cx="538.24" cy="704.24" r="1.5" fill="#e2673f"/>
<circle cx="538.35" cy="702.38" r="1.5" fill="#e2673f"/>
<circle cx="538.48" cy="700.52" r="1.5" fill="#e2673f"/>
<circle cx="538.63" cy="698.65" r="1.5" fill="#e2673f"/>
<circle cx="538.78" cy="696.79" r="1.5" fill="#e2673f"/>
<circle cx="538.92" cy="694.93" r="1.5" fill="#e2673f"/>
<circle cx="539.02" cy="693.07" r="1.5" fill="#e2673f"/>
<circle cx="539.07" cy="691.20" r="1.5" fill="#e2673f"/>
<circle cx="539.07" cy="689.34" r="1.5" fill="#e2673f"/>
<circle cx="539.07" cy="687.48" r="1.5" fill="#e2673f"/>
<circle cx="539.07" cy="685.62" r="1.5" fill="#e2673f"/>
<circle cx="539.07" cy="683.75" r="1.5" fill="#e2673f"/>
<circle cx="539.07" cy="681.89" r="1.5" fill="#e2673f"/>
<circle cx="539.07" cy="680.03" r="1.5" fill="#e2673f"/>
<circle cx="539.05" cy="678.16" r="1.5" fill="#e2673f"/>
<circle cx="538.95" cy="676.30" r="1.5" fill="#e2673f"/>
<circle cx="538.84" cy="674.44" r="1.5" fill="#e2673f"/>
<circle cx="538.75" cy="672.58" r="1.5" fill="#e2673f"/>
<circle cx="538.73" cy="670.71" r="1.5" fill="#e2673f"/>
<circle cx="538.80" cy="668.85" r="1.5" fill="#e2673f"/>
<circle cx="538.95" cy="666.99" r="1.5" fill="#e2673f"/>
<circle cx="539.17" cy="665.13" r="1.5" fill="#e2673f"/>
<circle cx="539.45" cy="663.26" r="1.5" fill="#e2673f"/>
<circle cx="539.78" cy="661.40" r="1.5" fill="#e2673f"/>
<path d="M450.97,786.00 L460.84,784.32 L469.75,782.64 L479.95,781.10 L488.09,779.56 L494.40,778.58 L500.46,777.32 L505.29,775.78 L509.42,774.24 L513.10,772.70 L515.54,771.30 L518.25,769.46 L520.50,767.62 L522.44,765.78 L524.18,763.94 L525.76,762.11 L527.18,760.27 L528.46,758.43 L529.60,756.59 L530.64,754.75 L531.58,752.91 L532.45,751.07 L533.23,749.23 L533.94,747.39 L534.60,745.55 L535.22,743.72 L535.78,741.88 L536.27,740.04 L536.65,738.20 L536.96,736.36 L537.22,734.52 L537.44,732.68 L537.66,730.84 L537.88,729.00 L538.12,727.16 L538.38,725.33 L538.64,723.49 L538.90,721.65 L539.15,719.81 L539.39,717.97 L539.61,716.13 L539.81,714.29 L539.97,712.45 L540.12,710.61 L540.26,708.77 L540.39,706.94 L540.52,705.10 L540.67,703.26 L540.82,701.42 L541.01,699.58 L541.25,697.74 L541.49,695.90 L541.70,694.06 L541.84,692.22 L541.88,690.38 L541.84,688.55 L541.76,686.71 L541.64,684.87 L541.49,683.03 L541.33,681.19 L541.16,679.35 L540.92,677.51 L540.61,675.67 L540.26,673.83 L539.91,671.99 L539.60,670.16 L539.29,668.32 L538.99,666.48 L538.68,664.64 L538.37,662.80" fill="none" stroke="#555b5c" stroke-width="1.2" stroke-linejoin="round"/>
<circle cx="450.97" cy="786.00" r="1.6" fill="#565c5d"/>
<circle cx="460.84" cy="784.32" r="1.6" fill="#565c5d"/>
<circle cx="469.75" cy="782.64" r="1.6" fill="#565c5d"/>
<circle cx="479.95" cy="781.10" r="1.6" fill="#565c5d"/>
<circle cx="488.09" cy="779.56" r="1.6" fill="#565c5d"/>
<circle cx="494.40" cy="778.58" r="1.6" fill="#565c5d"/>
<circle cx="500.46" cy="777.32" r="1.6" fill="#565c5d"/>
<circle cx="505.29" cy="775.78" r="1.6" fill="#565c5d"/>
<circle cx="509.42" cy="774.24" r="1.6" fill="#565c5d"/>
<circle cx="513.10" cy="772.70" r="1.6" fill="#565c5d"/>
<circle cx="515.54" cy="771.30" r="1.6" fill="#565c5d"/>
<circle cx="518.25" cy="769.46" r="1.6" fill="#565c5d"/>
<circle cx="520.50" cy="767.62" r="1.6" fill="#565c5d"/>
<circle cx="522.44" cy="765.78" r="1.6" fill="#565c5d"/>
<circle cx="524.18" cy="763.94" r="1.6" fill="#565c5d"/>
<circle cx="525.76" cy="762.11" r="1.6" fill="#565c5d"/>
<circle cx="527.18" cy="760.27" r="1.6" fill="#565c5d"/>
<circle cx="528.46" cy="758.43" r="1.6" fill="#565c5d"/>
<circle cx="529.60" cy="756.59" r="1.6" fill="#565c5d"/>
<circle cx="530.64" cy="754.75" r="1.6" fill="#565c5d"/>
<circle cx="531.58" cy="752.91" r="1.6" fill="#565c5d"/>
<circle cx="532.45" cy="751.07" r="1.6" fill="#565c5d"/>
<circle cx="533.23" cy="749.23" r="1.6" fill="#565c5d"/>
<circle cx="533.94" cy="747.39" r="1.6" fill="#565c5d"/>
<circle cx="534.60" cy="745.55" r="1.6" fill="#565c5d"/>
<circle cx="535.22" cy="743.72" r="1.6" fill="#565c5d"/>
<circle cx="535.78" cy="741.88" r="1.6" fill="#565c5d"/>
<circle cx="536.27" cy="740.04" r="1.6" fill="#565c5d"/>
<circle cx="536.65" cy="738.20" r="1.6" fill="#565c5d"/>
<circle cx="536.96" cy="736.36" r="1.6" fill="#565c5d"/>
<circle cx="537.22" cy="734.52" r="1.6" fill="#565c5d"/>
<circle cx="537.44" cy="732.68" r="1.6" fill="#565c5d"/>
<circle cx="537.66" cy="730.84" r="1.6" fill="#565c5d"/>
<circle cx="537.88" cy="729.00" r="1.6" fill="#565c5d"/>
<circle cx="538.12" cy="727.16" r="1.6" fill="#565c5d"/>
<circle cx="538.38" cy="725.33" r="1.6" fill="#565c5d"/>
<circle cx="538.64" cy="723.49" r="1.6" fill="#565c5d"/>
<circle cx="538.90" cy="721.65" r="1.6" fill="#565c5d"/>
<circle cx="539.15" cy="719.81" r="1.6" fill="#565c5d"/>
<circle cx="539.39" cy="717.97" r="1.6" fill="#565c5d"/>
<circle cx="539.61" cy="716.13" r="1.6" fill="#565c5d"/>
<circle cx="539.81" cy="714.29" r="1.6" fill="#565c5d"/>
<circle cx="539.97" cy="712.45" r="1.6" fill="#565c5d"/>
<circle cx="540.12" cy="710.61" r="1.6" fill="#565c5d"/>
<circle cx="540.26" cy="708.77" r="1.6" fill="#565c5d"/>
<circle cx="540.39" cy="706.94" r="1.6" fill="#565c5d"/>
<circle cx="540.52" cy="705.10" r="1.6" fill="#565c5d"/>
<circle cx="540.67" cy="703.26" r="1.6" fill="#565c5d"/>
<circle cx="540.82" cy="701.42" r="1.6" fill="#565c5d"/>
<circle cx="541.01" cy="699.58" r="1.6" fill="#565c5d"/>
<circle cx="541.25" cy="697.74" r="1.6" fill="#565c5d"/>
<circle cx="541.49" cy="695.90" r="1.6" fill="#565c5d"/>
<circle cx="541.70" cy="694.06" r="1.6" fill="#565c5d"/>
<circle cx="541.84" cy="692.22" r="1.6" fill="#565c5d"/>
<circle cx="541.88" cy="690.38" r="1.6" fill="#565c5d"/>
<circle cx="541.84" cy="688.55" r="1.6" fill="#565c5d"/>
<circle cx="541.76" cy="686.71" r="1.6" fill="#565c5d"/>
<circle cx="541.64" cy="684.87" r="1.6" fill="#565c5d"/>
<circle cx="541.49" cy="683.03" r="1.6" fill="#565c5d"/>
<circle cx="541.33" cy="681.19" r="1.6" fill="#565c5d"/>
<circle cx="541.16" cy="679.35" r="1.6" fill="#565c5d"/>
<circle cx="540.92" cy="677.51" r="1.6" fill="#565c5d"/>
<circle cx="540.61" cy="675.67" r="1.6" fill="#565c5d"/>
<circle cx="540.26" cy="673.83" r="1.6" fill="#565c5d"/>
<circle cx="539.91" cy="671.99" r="1.6" fill="#565c5d"/>
<circle cx="539.60" cy="670.16" r="1.6" fill="#565c5d"/>
<circle cx="539.29" cy="668.32" r="1.6" fill="#565c5d"/>
<circle cx="538.99" cy="666.48" r="1.6" fill="#565c5d"/>
<circle cx="538.68" cy="664.64" r="1.6" fill="#565c5d"/>
<circle cx="538.37" cy="662.80" r="1.6" fill="#565c5d"/>
<line x1="576.80" y1="713.60" x2="591.80" y2="713.60" stroke="#f2a493" stroke-width="1.6"/>
<circle cx="584.4" cy="713.6" r="1.6" fill="#e2673f"/>
<text transform="translate(597.60 716.90) scale(1.0 1.06)" font-size="9.5" text-anchor="start" fill="#333">- NAD</text>
<line x1="576.80" y1="732.60" x2="591.80" y2="732.60" stroke="#505a5a" stroke-width="1.5"/>
<circle cx="584.4" cy="732.6" r="1.6" fill="#565c5d"/>
<text transform="translate(597.60 735.90) scale(1.0 1.06)" font-size="9.5" text-anchor="start" fill="#333">+ NAD</text>
<text transform="translate(9.40 619.40)" font-size="16.5" text-anchor="start" fill="#231f20">c</text>
<defs>
<filter id="bl1" x="-50%" y="-100%" width="200%" height="300%"><feGaussianBlur stdDeviation="1.1 1.0"/></filter>
<filter id="bl2" x="-50%" y="-100%" width="200%" height="300%"><feGaussianBlur stdDeviation="2.2 2.4"/></filter>
<filter id="bl3" x="-10%" y="-10%" width="120%" height="120%"><feGaussianBlur stdDeviation="0.5 0"/></filter>
</defs>
<rect x="35.4" y="656.6" width="207.0" height="27.799999999999955" fill="#fafafa"/>
<rect x="40.20" y="656.6" width="12" height="27.799999999999955" fill="#f5f5f5" filter="url(#bl3)"/>
<rect x="55.68" y="656.6" width="12" height="27.799999999999955" fill="#f5f5f5" filter="url(#bl3)"/>
<rect x="71.16" y="656.6" width="12" height="27.799999999999955" fill="#f5f5f5" filter="url(#bl3)"/>
<rect x="86.64" y="656.6" width="12" height="27.799999999999955" fill="#f5f5f5" filter="url(#bl3)"/>
<rect x="102.12" y="656.6" width="12" height="27.799999999999955" fill="#f5f5f5" filter="url(#bl3)"/>
<rect x="117.60" y="656.6" width="12" height="27.799999999999955" fill="#f5f5f5" filter="url(#bl3)"/>
<rect x="133.08" y="656.6" width="12" height="27.799999999999955" fill="#f5f5f5" filter="url(#bl3)"/>
<rect x="148.56" y="656.6" width="12" height="27.799999999999955" fill="#f5f5f5" filter="url(#bl3)"/>
<rect x="164.04" y="656.6" width="12" height="27.799999999999955" fill="#f5f5f5" filter="url(#bl3)"/>
<rect x="179.52" y="656.6" width="12" height="27.799999999999955" fill="#f5f5f5" filter="url(#bl3)"/>
<rect x="195.00" y="656.6" width="12" height="27.799999999999955" fill="#f5f5f5" filter="url(#bl3)"/>
<rect x="210.48" y="656.6" width="12" height="27.799999999999955" fill="#f5f5f5" filter="url(#bl3)"/>
<rect x="225.96" y="656.6" width="12" height="27.799999999999955" fill="#f5f5f5" filter="url(#bl3)"/>
<ellipse cx="46.20" cy="670.20" rx="9.5" ry="6.5" fill="#000" fill-opacity="0.35" filter="url(#bl2)"/>
<ellipse cx="46.20" cy="669.60" rx="7.4" ry="3.8" fill="#000" filter="url(#bl1)"/>
<ellipse cx="46.20" cy="669.60" rx="6.2" ry="3.0" fill="#000"/>
<ellipse cx="61.68" cy="670.00" rx="6.6" ry="2.4" fill="rgb(55,55,55)" filter="url(#bl1)"/>
<ellipse cx="77.16" cy="670.20" rx="6.6" ry="2.4" fill="rgb(228,228,228)" filter="url(#bl1)"/>
<ellipse cx="92.64" cy="670.20" rx="6.6" ry="2.4" fill="rgb(244,244,244)" filter="url(#bl1)"/>
<ellipse cx="108.12" cy="670.20" rx="6.6" ry="2.4" fill="rgb(153,153,153)" filter="url(#bl1)"/>
<ellipse cx="123.60" cy="670.20" rx="6.6" ry="2.4" fill="rgb(163,163,163)" filter="url(#bl1)"/>
<ellipse cx="139.08" cy="670.00" rx="6.6" ry="2.4" fill="rgb(94,94,94)" filter="url(#bl1)"/>
<ellipse cx="154.56" cy="669.80" rx="6.6" ry="2.4" fill="rgb(77,77,77)" filter="url(#bl1)"/>
<ellipse cx="170.04" cy="669.80" rx="6.6" ry="2.4" fill="rgb(200,200,200)" filter="url(#bl1)"/>
<ellipse cx="185.52" cy="669.60" rx="6.6" ry="2.4" fill="rgb(189,189,189)" filter="url(#bl1)"/>
<ellipse cx="201.00" cy="669.20" rx="6.6" ry="2.4" fill="rgb(183,183,183)" filter="url(#bl1)"/>
<ellipse cx="216.48" cy="669.00" rx="6.6" ry="2.4" fill="rgb(183,183,183)" filter="url(#bl1)"/>
<ellipse cx="231.96" cy="668.00" rx="6.6" ry="2.4" fill="rgb(163,163,163)" filter="url(#bl1)"/>
<rect x="35.4" y="656.6" width="207.0" height="27.799999999999955" fill="none" stroke="#231f20" stroke-width="1.5"/>
<rect x="35.4" y="707.5" width="207.6" height="27.700000000000045" fill="#d3d3d3"/>
<rect x="40.70" y="707.5" width="11" height="27.700000000000045" fill="#cdcdcd" filter="url(#bl3)"/>
<rect x="56.18" y="707.5" width="11" height="27.700000000000045" fill="#cdcdcd" filter="url(#bl3)"/>
<rect x="71.66" y="707.5" width="11" height="27.700000000000045" fill="#cdcdcd" filter="url(#bl3)"/>
<rect x="87.14" y="707.5" width="11" height="27.700000000000045" fill="#cdcdcd" filter="url(#bl3)"/>
<rect x="102.62" y="707.5" width="11" height="27.700000000000045" fill="#cdcdcd" filter="url(#bl3)"/>
<rect x="118.10" y="707.5" width="11" height="27.700000000000045" fill="#cdcdcd" filter="url(#bl3)"/>
<rect x="133.58" y="707.5" width="11" height="27.700000000000045" fill="#cdcdcd" filter="url(#bl3)"/>
<rect x="149.06" y="707.5" width="11" height="27.700000000000045" fill="#cdcdcd" filter="url(#bl3)"/>
<rect x="164.54" y="707.5" width="11" height="27.700000000000045" fill="#cdcdcd" filter="url(#bl3)"/>
<rect x="180.02" y="707.5" width="11" height="27.700000000000045" fill="#cdcdcd" filter="url(#bl3)"/>
<rect x="195.50" y="707.5" width="11" height="27.700000000000045" fill="#cdcdcd" filter="url(#bl3)"/>
<rect x="210.98" y="707.5" width="11" height="27.700000000000045" fill="#cdcdcd" filter="url(#bl3)"/>
<rect x="226.46" y="707.5" width="11" height="27.700000000000045" fill="#cdcdcd" filter="url(#bl3)"/>
<ellipse cx="46.20" cy="724.00" rx="6.9" ry="2.5" fill="#404040" filter="url(#bl1)"/>
<ellipse cx="61.68" cy="724.00" rx="6.9" ry="2.5" fill="#404040" filter="url(#bl1)"/>
<ellipse cx="77.16" cy="723.80" rx="6.9" ry="2.5" fill="#404040" filter="url(#bl1)"/>
<ellipse cx="92.64" cy="723.80" rx="6.9" ry="2.5" fill="#404040" filter="url(#bl1)"/>
<ellipse cx="108.12" cy="725.40" rx="6.9" ry="2.5" fill="#404040" filter="url(#bl1)"/>
<ellipse cx="123.60" cy="725.20" rx="6.9" ry="2.5" fill="#404040" filter="url(#bl1)"/>
<ellipse cx="139.08" cy="725.40" rx="6.9" ry="2.5" fill="#404040" filter="url(#bl1)"/>
<ellipse cx="154.56" cy="724.80" rx="6.9" ry="2.5" fill="#404040" filter="url(#bl1)"/>
<ellipse cx="170.04" cy="723.60" rx="6.9" ry="2.5" fill="#404040" filter="url(#bl1)"/>
<ellipse cx="185.52" cy="723.00" rx="6.9" ry="2.5" fill="#404040" filter="url(#bl1)"/>
<ellipse cx="201.00" cy="722.60" rx="6.9" ry="2.5" fill="#404040" filter="url(#bl1)"/>
<ellipse cx="216.48" cy="722.40" rx="6.9" ry="2.5" fill="#404040" filter="url(#bl1)"/>
<ellipse cx="233.96" cy="716.6" rx="5.4" ry="2.7" fill="#1e1e1e" filter="url(#bl1)"/>
<rect x="35.4" y="707.5" width="207.6" height="27.700000000000045" fill="none" stroke="#231f20" stroke-width="1.5"/>
<text transform="translate(44.70 653.40) rotate(-45) scale(1.0 1.06)" font-size="9.6" text-anchor="start" fill="#e0634a">WT</text>
<text transform="translate(60.35 653.40) rotate(-45) scale(1.0 1.06)" font-size="9.6" text-anchor="start" fill="#a77dbb">R576A</text>
<text transform="translate(76.00 653.40) rotate(-45) scale(1.0 1.06)" font-size="9.6" text-anchor="start" fill="#9dc46a">R576E</text>
<text transform="translate(91.65 653.40) rotate(-45) scale(1.0 1.06)" font-size="9.6" text-anchor="start" fill="#e3a84e">R576D</text>
<text transform="translate(107.30 653.40) rotate(-45) scale(1.0 1.06)" font-size="9.6" text-anchor="start" fill="#3fa7a8">D665A</text>
<text transform="translate(122.95 653.40) rotate(-45) scale(1.0 1.06)" font-size="9.6" text-anchor="start" fill="#d06a78">D665R</text>
<text font-size="9.6" transform="translate(138.60 653.4) rotate(-45) scale(1 1.06)"><tspan fill="#a77dbb">R576A</tspan><tspan fill="#333">/</tspan><tspan fill="#3fa7a8">D665A</tspan></text>
<text font-size="9.6" transform="translate(154.25 653.4) rotate(-45) scale(1 1.06)"><tspan fill="#a77dbb">R576A</tspan><tspan fill="#333">/</tspan><tspan fill="#d06a78">D665R</tspan></text>
<text font-size="9.6" transform="translate(169.90 653.4) rotate(-45) scale(1 1.06)"><tspan fill="#9dc46a">R576E</tspan><tspan fill="#333">/</tspan><tspan fill="#3fa7a8">D665A</tspan></text>
<text font-size="9.6" transform="translate(185.55 653.4) rotate(-45) scale(1 1.06)"><tspan fill="#9dc46a">R576E</tspan><tspan fill="#333">/</tspan><tspan fill="#d06a78">D665R</tspan></text>
<text font-size="9.6" transform="translate(201.20 653.4) rotate(-45) scale(1 1.06)"><tspan fill="#e3a84e">R576D</tspan><tspan fill="#333">/</tspan><tspan fill="#3fa7a8">D665A</tspan></text>
<text font-size="9.6" transform="translate(216.85 653.4) rotate(-45) scale(1 1.06)"><tspan fill="#e3a84e">R576D</tspan><tspan fill="#333">/</tspan><tspan fill="#d06a78">D665R</tspan></text>
<text transform="translate(232.50 653.40) rotate(-45) scale(1.0 1.06)" font-size="9.6" text-anchor="start" fill="#231f20">marker</text>
<line x1="243.20" y1="670.00" x2="245.80" y2="670.00" stroke="#333" stroke-width="1"/>
<text transform="translate(249.00 673.40) scale(1.0 1.06)" font-size="9.5" text-anchor="start" fill="#333">28 kDa</text>
<line x1="243.20" y1="717.00" x2="245.80" y2="717.00" stroke="#333" stroke-width="1"/>
<text transform="translate(249.00 720.40) scale(1.0 1.06)" font-size="9.5" text-anchor="start" fill="#333">28 kDa</text>
<text transform="translate(148.40 696.40) scale(1.0 1.06)" font-size="9.5" text-anchor="start" fill="#333">chemiluminescence</text>
<text transform="translate(115.40 748.60) scale(1.0 1.06)" font-size="9.8" text-anchor="start" fill="#333">loading control (PonceauS)</text>
</svg></body></html>
